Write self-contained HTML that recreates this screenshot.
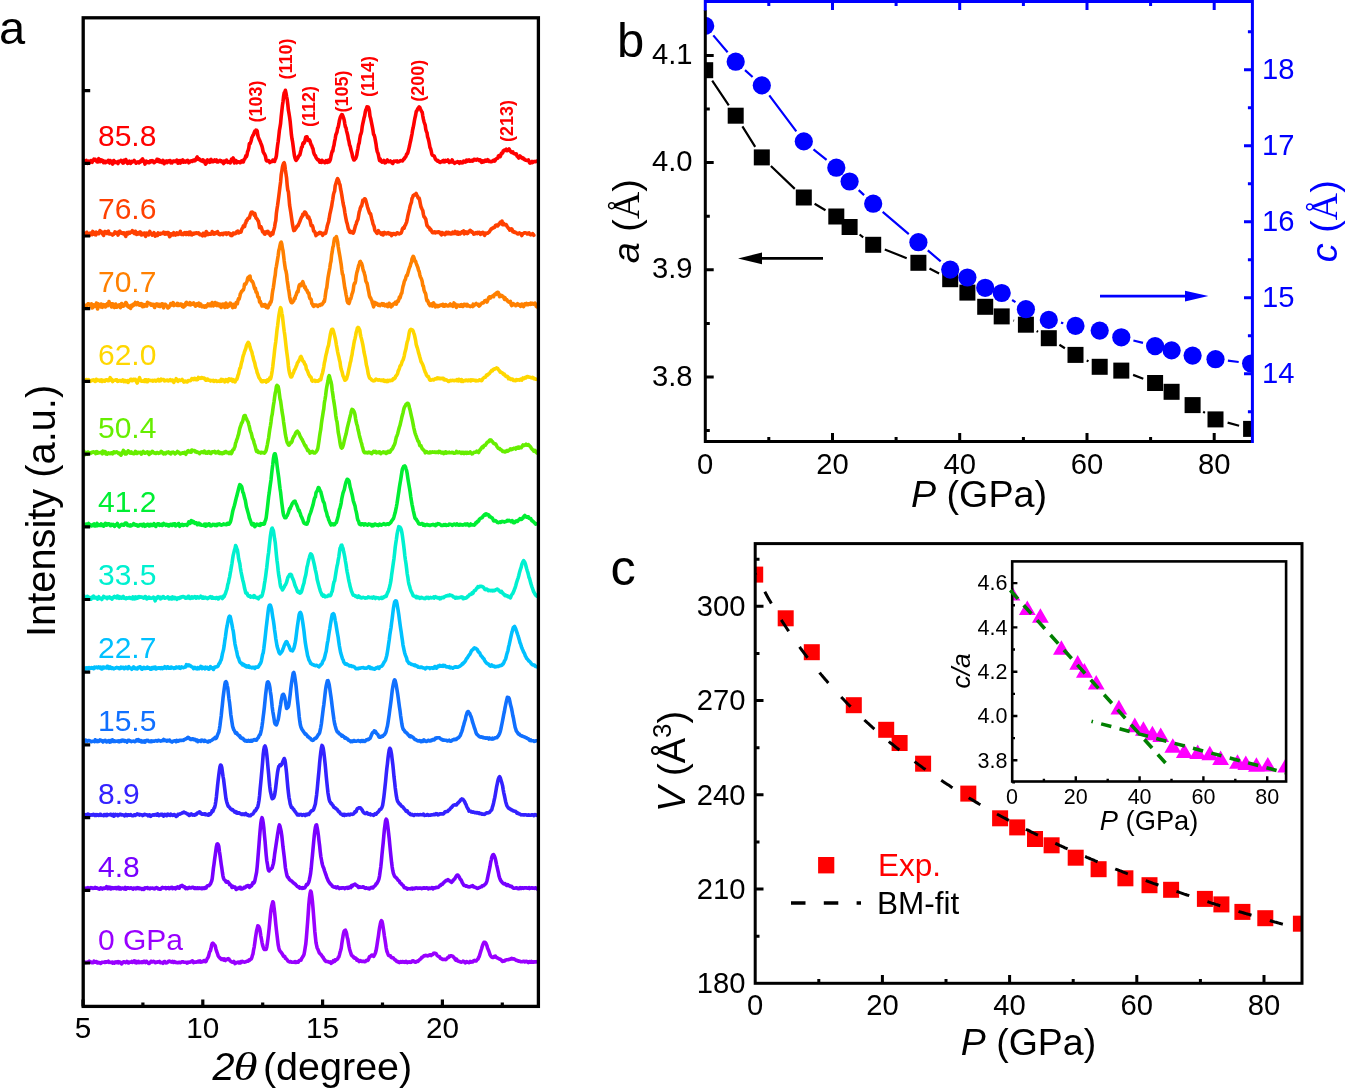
<!DOCTYPE html>
<html><head><meta charset="utf-8"><style>html,body{margin:0;padding:0;background:#fff;overflow:hidden}svg{display:block;will-change:transform}</style></head><body>
<svg width="1345" height="1089" viewBox="0 0 1345 1089">
<defs><clipPath id="clipA"><rect x="83.2" y="17.8" width="455.2" height="988.6"/></clipPath></defs>
<rect width="100%" height="100%" fill="#fff"/>
<g clip-path="url(#clipA)"><polyline points="83.2,161.9 83.8,162.1 84.4,161.3 85,160.6 85.6,160.8 86.2,160.5 86.8,162 87.4,163.3 88,161.4 88.6,161.1 89.2,162.3 89.8,162.4 90.4,161.8 91,160.7 91.6,161.7 92.2,162.3 92.8,160.3 93.4,160.4 94,159.1 94.6,159.3 95.2,159.2 95.8,160.7 96.4,160.3 97,161.8 97.6,162 98.2,161 98.8,158.7 99.4,160.5 100,161.6 100.6,161.5 101.2,159.9 101.8,160.6 102.4,160.3 103,160.9 103.6,162.6 104.2,161.1 104.8,161.8 105.4,162.7 106,161.3 106.6,161.6 107.2,161.9 107.8,161.6 108.4,160.4 109,161.9 109.6,163 110.2,160.6 110.8,162.4 111.4,162 112,161.6 112.6,164.1 113.2,162.9 113.8,160.6 114.4,161.7 115,162.4 115.6,161.9 116.2,162.5 116.8,162.1 117.4,162.9 118,163.5 118.6,161.4 119.2,161.8 119.8,161.3 120.4,161.5 121,160.3 121.6,160.8 122.2,161.7 122.8,163.1 123.4,163 124,160.4 124.6,160.7 125.2,161.9 125.8,159.6 126.4,160.8 127,161.9 127.6,163.4 128.2,162.8 128.8,161.5 129.4,161.2 130,161.8 130.6,163.4 131.2,161.6 131.8,161.4 132.4,162.1 133,161.7 133.6,161.3 134.2,160.5 134.8,161.4 135.4,161.6 136,163.2 136.6,162.8 137.2,162.1 137.8,162.5 138.4,161.8 139,162.9 139.6,162.2 140.2,162.1 140.8,160.6 141.4,161.5 142,159.5 142.6,159 143.2,160.8 143.8,160.8 144.4,162.3 145,164.1 145.6,161.3 146.2,161 146.8,162 147.4,162.4 148,161.7 148.6,161.7 149.2,162.7 149.8,162.3 150.4,160.8 151,161.5 151.6,161.6 152.2,160.7 152.8,161.6 153.4,161.1 154,162.7 154.6,162.3 155.2,161.8 155.8,161.1 156.4,161.1 157,159.3 157.6,160.2 158.2,161.4 158.8,159.7 159.4,161.8 160,160.3 160.6,162 161.2,161.2 161.8,162.5 162.4,161.8 163,160.4 163.6,163.1 164.2,163.7 164.8,162 165.4,161.4 166,161.3 166.6,161 167.2,162.6 167.8,161.5 168.4,161.4 169,160.8 169.6,160.6 170.2,160.6 170.8,162.8 171.4,162.1 172,162.8 172.6,161.9 173.2,161 173.8,161.2 174.4,161.1 175,161.6 175.6,161.3 176.2,161.1 176.8,160.1 177.4,161 178,163.2 178.6,161.2 179.2,160.6 179.8,162.2 180.4,163.1 181,160.5 181.6,161.1 182.2,160.7 182.8,159.9 183.4,162.2 184,162 184.6,161.7 185.2,161.1 185.8,162 186.4,161.3 187,161.3 187.6,160.3 188.2,160.6 188.8,162.8 189.4,161.6 190,161.9 190.6,161.5 191.2,160.8 191.8,160.7 192.4,161.4 193,160.3 193.6,160 194.2,160.1 194.8,160.9 195.4,160.3 196,159.3 196.6,157.8 197.2,157 197.8,159.2 198.4,159.5 199,158.7 199.6,159.4 200.2,160.1 200.8,160.6 201.4,160.7 202,160.1 202.6,161.5 203.2,159.9 203.8,161.7 204.4,162.1 205,162.9 205.6,164.1 206.2,163.4 206.8,160.5 207.4,160 208,162 208.6,160.9 209.2,161.7 209.8,162.3 210.4,159.8 211,159.3 211.6,161.6 212.2,161.8 212.8,161.6 213.4,161.6 214,160.6 214.6,160 215.2,161.1 215.8,160.4 216.4,160 217,161.9 217.6,161.9 218.2,162 218.8,160.7 219.4,160.7 220,160.4 220.6,160.7 221.2,161.6 221.8,161.1 222.4,162.1 223,162.7 223.6,163.6 224.2,161 224.8,162.4 225.4,161.9 226,161.5 226.6,160.2 227.2,161.2 227.8,162.4 228.4,161.9 229,161.8 229.6,161.8 230.2,162.9 230.8,161.6 231.4,159.4 232,160.2 232.6,159 233.2,158 233.8,160.9 234.4,163 235,161.9 235.6,160.4 236.2,160.8 236.8,162.8 237.4,162.2 238,161.9 238.6,161.8 239.2,162 239.8,162.7 240.4,162.6 241,161.9 241.6,160.9 242.2,161.9 242.8,161.2 243.4,161.9 244,159.6 244.6,159.2 245.2,158 245.8,155.9 246.4,156.8 247,155 247.6,151.5 248.2,150.4 248.8,147.9 249.4,143.6 250,143.9 250.6,142.4 251.2,140.5 251.8,137.7 252.4,136.5 253,135.2 253.6,134.7 254.2,132.6 254.8,131.2 255.4,131.6 256,130.1 256.6,130.3 257.2,130.9 257.8,135.4 258.4,137.3 259,138.8 259.6,140.3 260.2,141.5 260.8,143.2 261.4,144.6 262,146.4 262.6,148.8 263.2,151.9 263.8,153 264.4,153.9 265,155 265.6,156.9 266.2,160.3 266.8,160.9 267.4,161 268,160.8 268.6,160.5 269.2,161.6 269.8,162.5 270.4,161.6 271,161.5 271.6,161.6 272.2,161.5 272.8,160.2 273.4,161 274,160.8 274.6,161.4 275.2,159.2 275.8,158.2 276.4,155.8 277,150.3 277.6,145.3 278.2,141.2 278.8,136.1 279.4,130.5 280,127.1 280.6,123.4 281.2,116.7 281.8,111.2 282.4,105.8 283,101.8 283.6,96.2 284.2,92.7 284.8,92.1 285.4,90.3 286,93.1 286.6,96.6 287.2,99.6 287.8,104.5 288.4,110.2 289,113.4 289.6,117.3 290.2,121.8 290.8,128.1 291.4,134.6 292,138.9 292.6,141.9 293.2,146.4 293.8,151.2 294.4,155.5 295,158 295.6,159.8 296.2,160.3 296.8,159.4 297.4,158.7 298,157.6 298.6,156.1 299.2,155.4 299.8,155 300.4,152.5 301,150 301.6,147.2 302.2,146.8 302.8,143.7 303.4,142.7 304,143.3 304.6,142 305.2,139.5 305.8,137 306.4,136.9 307,136.8 307.6,138.5 308.2,140.5 308.8,139.9 309.4,139.9 310,141 310.6,143.4 311.2,144.8 311.8,145.6 312.4,147.8 313,148.8 313.6,152.1 314.2,154 314.8,155.2 315.4,155.5 316,157.4 316.6,158.3 317.2,159.1 317.8,159.9 318.4,159.6 319,160.1 319.6,162.1 320.2,161.8 320.8,162.1 321.4,162.4 322,160.3 322.6,160.8 323.2,161.9 323.8,162.1 324.4,161.7 325,162.7 325.6,162 326.2,160.6 326.8,160.9 327.4,162.4 328,161.9 328.6,160.1 329.2,161.8 329.8,160.9 330.4,159.5 331,156.2 331.6,153.5 332.2,151.1 332.8,151.1 333.4,147.3 334,145.3 334.6,141.3 335.2,138.8 335.8,135 336.4,133.5 337,132 337.6,128.2 338.2,127.2 338.8,124.2 339.4,120.5 340,118.4 340.6,116.6 341.2,115.5 341.8,114.6 342.4,114.8 343,116.5 343.6,117.9 344.2,120.1 344.8,123.8 345.4,126.9 346,127.8 346.6,131.1 347.2,133.3 347.8,135.7 348.4,139.5 349,141.6 349.6,145.2 350.2,146.3 350.8,149.3 351.4,151.4 352,153.5 352.6,156.7 353.2,158.3 353.8,160 354.4,160 355,158.9 355.6,158.5 356.2,157.1 356.8,155.1 357.4,151.1 358,148.3 358.6,144.5 359.2,143 359.8,138.8 360.4,135.2 361,133.8 361.6,131.6 362.2,126.7 362.8,123.7 363.4,121 364,118.1 364.6,116.1 365.2,112.5 365.8,110 366.4,108.7 367,106.8 367.6,107.1 368.2,107 368.8,108.3 369.4,110.9 370,116.3 370.6,118.2 371.2,121.2 371.8,124.1 372.4,127.2 373,130.4 373.6,134.4 374.2,135.2 374.8,137.3 375.4,140.6 376,143.8 376.6,148.4 377.2,151.4 377.8,152.7 378.4,154.8 379,158 379.6,160.5 380.2,158.9 380.8,161.2 381.4,161.1 382,162.2 382.6,161 383.2,161.1 383.8,160.4 384.4,161 385,162.9 385.6,162.6 386.2,161.5 386.8,160.7 387.4,160 388,161.1 388.6,161.7 389.2,161.7 389.8,161.5 390.4,160.9 391,161.5 391.6,162 392.2,163.2 392.8,163.5 393.4,161.9 394,161.1 394.6,161.5 395.2,161.2 395.8,161.1 396.4,161.4 397,161 397.6,162 398.2,161.8 398.8,161.8 399.4,161.4 400,160.8 400.6,160.5 401.2,160.8 401.8,160.6 402.4,160.9 403,160.3 403.6,159 404.2,159.1 404.8,157.7 405.4,157.2 406,156.3 406.6,154.1 407.2,154 407.8,152.7 408.4,150.5 409,148.1 409.6,145.5 410.2,142.5 410.8,140 411.4,136.9 412,134 412.6,130 413.2,127.5 413.8,124.3 414.4,120.8 415,117.7 415.6,115.3 416.2,111.7 416.8,110.9 417.4,109.5 418,108.4 418.6,107.7 419.2,106.9 419.8,107.5 420.4,109 421,110.2 421.6,111.4 422.2,112.3 422.8,116 423.4,119.2 424,121.7 424.6,123.5 425.2,125.2 425.8,129.5 426.4,131.5 427,132.7 427.6,136.9 428.2,138.6 428.8,141 429.4,144.1 430,147.6 430.6,148.7 431.2,151 431.8,153.9 432.4,155.2 433,155.2 433.6,155.8 434.2,156.1 434.8,157.4 435.4,159.1 436,159.8 436.6,160.2 437.2,161 437.8,160.3 438.4,160.9 439,161.8 439.6,162.1 440.2,162.4 440.8,162 441.4,161.5 442,161.7 442.6,160.8 443.2,160.5 443.8,161.9 444.4,161.9 445,161.7 445.6,160.5 446.2,161.2 446.8,161.2 447.4,160.7 448,160 448.6,161.3 449.2,162.5 449.8,162.1 450.4,161.4 451,161.8 451.6,161.9 452.2,159.9 452.8,161.4 453.4,162.3 454,162.6 454.6,163.3 455.2,162.9 455.8,162.2 456.4,162.2 457,162.3 457.6,161.5 458.2,161.8 458.8,162.7 459.4,163.3 460,162 460.6,161.8 461.2,162.1 461.8,162.8 462.4,162.2 463,162.6 463.6,161.1 464.2,161.2 464.8,161.4 465.4,162.1 466,161.9 466.6,160.1 467.2,160.3 467.8,161 468.4,160.3 469,159.8 469.6,161.3 470.2,161.2 470.8,160.9 471.4,160.4 472,161 472.6,160.5 473.2,160.8 473.8,159.5 474.4,159.3 475,159.9 475.6,159.5 476.2,160.2 476.8,159.9 477.4,159.2 478,159.7 478.6,159.8 479.2,160.5 479.8,159.7 480.4,159.9 481,161.4 481.6,162.4 482.2,162.2 482.8,160.9 483.4,161 484,161.8 484.6,160.8 485.2,160.2 485.8,161 486.4,161.2 487,160.4 487.6,159.7 488.2,160.1 488.8,161.5 489.4,161 490,161.3 490.6,161.7 491.2,161.8 491.8,161.3 492.4,161.4 493,160.5 493.6,160.4 494.2,160.1 494.8,161 495.4,160.1 496,159 496.6,158.7 497.2,158.4 497.8,158.1 498.4,156.1 499,155.5 499.6,155.6 500.2,156.6 500.8,155 501.4,153.3 502,153.1 502.6,153.1 503.2,151 503.8,150.3 504.4,150.7 505,150.1 505.6,149.7 506.2,149.2 506.8,150.6 507.4,150.7 508,150.2 508.6,150 509.2,149 509.8,150.7 510.4,151.1 511,151.9 511.6,152.5 512.2,152.1 512.8,151.8 513.4,153.3 514,153.3 514.6,153.8 515.2,154 515.8,154.3 516.4,153.9 517,156.1 517.6,156.4 518.2,157.3 518.8,158 519.4,157 520,156 520.6,156.7 521.2,157 521.8,157.9 522.4,158.4 523,157.8 523.6,159.1 524.2,158.8 524.8,159.9 525.4,160.1 526,160.2 526.6,160.5 527.2,160.4 527.8,160.3 528.4,160 529,161.3 529.6,162.8 530.2,163.1 530.8,162.7 531.4,162.1 532,161.5 532.6,162.5 533.2,161.9 533.8,161.6 534.4,161.6 535,161.7 535.6,161.5 536.2,161.5 536.8,161.1" fill="none" stroke="#FF0000" stroke-width="3.6" stroke-linejoin="round" stroke-linecap="round"/>
<polyline points="83.2,233.6 83.8,236.1 84.4,233.9 85,233.3 85.6,234.3 86.2,234.2 86.8,232.3 87.4,233.2 88,234.6 88.6,234.1 89.2,234.1 89.8,235.2 90.4,233.1 91,233.3 91.6,233.3 92.2,234.6 92.8,231.4 93.4,232.1 94,232.9 94.6,234.3 95.2,234.7 95.8,234.9 96.4,232.2 97,233.9 97.6,233.2 98.2,232.8 98.8,233.7 99.4,232 100,230.7 100.6,232.2 101.2,231.5 101.8,232.5 102.4,233.9 103,234.4 103.6,235.4 104.2,233.3 104.8,231.5 105.4,232 106,231.9 106.6,232 107.2,233.5 107.8,232.4 108.4,231.2 109,233.8 109.6,233.6 110.2,233.9 110.8,233.9 111.4,234.3 112,234 112.6,235 113.2,234.4 113.8,234.2 114.4,233.7 115,231.9 115.6,232.9 116.2,233.2 116.8,233.3 117.4,232.4 118,235.1 118.6,233.7 119.2,231.7 119.8,231.2 120.4,232.7 121,233.2 121.6,232.7 122.2,233.3 122.8,232.9 123.4,233.8 124,232.8 124.6,233.5 125.2,235.2 125.8,236.4 126.4,232.9 127,232.5 127.6,232.6 128.2,233.9 128.8,232.3 129.4,232.7 130,233.1 130.6,232.1 131.2,232.1 131.8,232.2 132.4,230.7 133,231.3 133.6,232.7 134.2,233.5 134.8,232.9 135.4,231.3 136,232.7 136.6,234.4 137.2,234.3 137.8,233.3 138.4,232.6 139,233.9 139.6,232.7 140.2,231.9 140.8,232.7 141.4,235 142,234.4 142.6,234.7 143.2,233.5 143.8,234.3 144.4,233 145,233.8 145.6,236.4 146.2,234.8 146.8,233.1 147.4,233.4 148,234.1 148.6,234.8 149.2,232.8 149.8,231.4 150.4,232.8 151,233.5 151.6,233.9 152.2,235.1 152.8,234.4 153.4,234.2 154,232.7 154.6,234.7 155.2,236.2 155.8,234.9 156.4,234 157,234.2 157.6,235.3 158.2,232.9 158.8,233.3 159.4,234.2 160,234.3 160.6,233.3 161.2,233.7 161.8,233.3 162.4,233.5 163,233.1 163.6,232.2 164.2,233.4 164.8,234.2 165.4,232.6 166,233.2 166.6,233.9 167.2,232.5 167.8,233.2 168.4,232.7 169,235 169.6,236.7 170.2,236.2 170.8,233.9 171.4,234.3 172,233.8 172.6,234 173.2,234.9 173.8,232.7 174.4,234.3 175,234 175.6,235 176.2,233.9 176.8,232.9 177.4,233.8 178,234.4 178.6,233.8 179.2,233.9 179.8,232.6 180.4,231.3 181,234.1 181.6,234.5 182.2,233.8 182.8,233.8 183.4,234.5 184,233.1 184.6,232.6 185.2,233.4 185.8,234.4 186.4,232.6 187,234.3 187.6,232.8 188.2,232.5 188.8,234.6 189.4,233.4 190,232 190.6,233 191.2,234.7 191.8,234.9 192.4,233.4 193,234 193.6,234.2 194.2,233.1 194.8,233.7 195.4,233.4 196,232.8 196.6,232.9 197.2,233.5 197.8,233.4 198.4,232.8 199,233.2 199.6,234.6 200.2,234.2 200.8,234.7 201.4,235.1 202,234.9 202.6,235.8 203.2,233.3 203.8,234.1 204.4,233.8 205,235.7 205.6,235.2 206.2,231.6 206.8,232.2 207.4,234.1 208,234.6 208.6,234.4 209.2,233.7 209.8,234.1 210.4,234.3 211,233.8 211.6,234 212.2,231.5 212.8,233.4 213.4,232.8 214,234.2 214.6,233.3 215.2,232.6 215.8,233.5 216.4,232.4 217,232 217.6,231.7 218.2,233.2 218.8,234.2 219.4,234.6 220,233.8 220.6,234.5 221.2,233.7 221.8,233.5 222.4,234.3 223,234.6 223.6,233.3 224.2,233.1 224.8,233.3 225.4,233.4 226,232.8 226.6,234.3 227.2,233.4 227.8,233.7 228.4,232.8 229,233.8 229.6,233.9 230.2,233.6 230.8,235.5 231.4,234.7 232,235.6 232.6,234.7 233.2,233 233.8,233.1 234.4,233.9 235,233.7 235.6,233.5 236.2,232.8 236.8,231.6 237.4,232.4 238,231.2 238.6,233 239.2,232.3 239.8,232 240.4,232.3 241,232.1 241.6,229.8 242.2,228.4 242.8,227.7 243.4,225.8 244,225.8 244.6,226.6 245.2,223.6 245.8,223 246.4,220.5 247,220.4 247.6,219.1 248.2,218.2 248.8,218.1 249.4,218 250,215.6 250.6,213.9 251.2,212.3 251.8,212.7 252.4,212.2 253,213.1 253.6,213.4 254.2,215.1 254.8,213.4 255.4,215.7 256,218.2 256.6,218.4 257.2,219.1 257.8,220.5 258.4,221.1 259,224.1 259.6,227.7 260.2,227.7 260.8,226.6 261.4,227.7 262,229.7 262.6,231.8 263.2,231.3 263.8,232 264.4,233.9 265,234.2 265.6,232.9 266.2,231.9 266.8,231.6 267.4,232 268,231.3 268.6,233.6 269.2,233.1 269.8,234.2 270.4,235.6 271,234.8 271.6,232.8 272.2,234.1 272.8,234 273.4,231.3 274,229.3 274.6,227.1 275.2,223 275.8,220.6 276.4,213.2 277,209.1 277.6,205.3 278.2,200.7 278.8,196.2 279.4,191.4 280,186.4 280.6,182 281.2,174.8 281.8,171.4 282.4,167.3 283,164.9 283.6,163.3 284.2,162.7 284.8,165.1 285.4,169.9 286,173.9 286.6,178 287.2,185.3 287.8,190.2 288.4,191.9 289,198.2 289.6,205.1 290.2,208.7 290.8,212.6 291.4,216.7 292,220.9 292.6,224.9 293.2,227.9 293.8,230.6 294.4,230.4 295,229.8 295.6,228.5 296.2,228.1 296.8,226.5 297.4,226 298,225.9 298.6,224.2 299.2,222.9 299.8,221.5 300.4,219.9 301,218.4 301.6,217.1 302.2,216.5 302.8,214.3 303.4,214.9 304,213.2 304.6,212 305.2,212.2 305.8,212.9 306.4,214.4 307,215.3 307.6,217.6 308.2,217.2 308.8,217 309.4,219.2 310,219.9 310.6,223 311.2,225.5 311.8,226.2 312.4,225.7 313,227.6 313.6,231 314.2,231.2 314.8,231.9 315.4,233.8 316,235.6 316.6,234.9 317.2,233.9 317.8,233.9 318.4,234 319,232.9 319.6,232.4 320.2,233.2 320.8,232.7 321.4,233.3 322,234 322.6,235.4 323.2,233.2 323.8,233.2 324.4,233.3 325,233.6 325.6,233.4 326.2,230.9 326.8,228.4 327.4,225.4 328,223.4 328.6,221.8 329.2,218.4 329.8,214.4 330.4,211.8 331,209.2 331.6,206.4 332.2,202.5 332.8,199.2 333.4,194.9 334,192.6 334.6,191.3 335.2,185.8 335.8,183.9 336.4,182.1 337,179.8 337.6,178.6 338.2,179.6 338.8,181.3 339.4,183.3 340,184.8 340.6,188.9 341.2,191.7 341.8,195.1 342.4,199 343,202.7 343.6,205.8 344.2,208 344.8,212.2 345.4,215.7 346,218.9 346.6,221.9 347.2,223.6 347.8,226.3 348.4,229.2 349,229.8 349.6,231.9 350.2,232.4 350.8,232.5 351.4,231.6 352,232.1 352.6,232.8 353.2,233.1 353.8,232 354.4,229.7 355,227.5 355.6,225.2 356.2,224 356.8,221.7 357.4,220.5 358,219.2 358.6,215.6 359.2,212.1 359.8,210.2 360.4,207.8 361,206.3 361.6,206.2 362.2,203.4 362.8,200.3 363.4,200.5 364,200.2 364.6,198.8 365.2,199 365.8,200.5 366.4,202.7 367,204.9 367.6,207.2 368.2,209.1 368.8,210.9 369.4,212.8 370,213.6 370.6,213.8 371.2,216.6 371.8,219.2 372.4,221.1 373,224 373.6,225.2 374.2,226.9 374.8,230.3 375.4,231.2 376,231.7 376.6,232.8 377.2,233.3 377.8,232.5 378.4,230.7 379,231.9 379.6,232.5 380.2,232.5 380.8,233.6 381.4,234.4 382,233.1 382.6,232.8 383.2,234.9 383.8,233.3 384.4,232.5 385,233.6 385.6,233.8 386.2,233.1 386.8,233.9 387.4,233.1 388,232.7 388.6,233.6 389.2,234 389.8,233.2 390.4,233.6 391,234 391.6,235.6 392.2,233.6 392.8,234.5 393.4,233.7 394,233.5 394.6,234.2 395.2,234.5 395.8,234.6 396.4,233.7 397,232.8 397.6,232.8 398.2,233.5 398.8,233.7 399.4,234 400,233.2 400.6,233.3 401.2,233 401.8,231.2 402.4,229 403,228.1 403.6,227.5 404.2,228.2 404.8,225.7 405.4,225.3 406,223.5 406.6,222.2 407.2,219.5 407.8,216.1 408.4,213.5 409,211.2 409.6,208.7 410.2,205.7 410.8,203.9 411.4,202.4 412,198.4 412.6,197.4 413.2,195.6 413.8,195.2 414.4,195 415,194.2 415.6,194.3 416.2,193.4 416.8,195.5 417.4,195.8 418,197.7 418.6,198.5 419.2,198.2 419.8,201 420.4,204.1 421,206.9 421.6,208.1 422.2,209.5 422.8,210.6 423.4,214.4 424,216.7 424.6,217.2 425.2,218.2 425.8,219.2 426.4,222.7 427,225.7 427.6,225.9 428.2,227.2 428.8,227.7 429.4,227.8 430,229.8 430.6,229.2 431.2,230.4 431.8,231.6 432.4,232.5 433,232.7 433.6,232.7 434.2,232 434.8,231.9 435.4,232.8 436,232.5 436.6,232 437.2,232.1 437.8,232.5 438.4,231.8 439,231.9 439.6,232.1 440.2,233.4 440.8,234.1 441.4,234.8 442,232.6 442.6,232.9 443.2,234 443.8,233.4 444.4,233.5 445,234.7 445.6,233.3 446.2,232.4 446.8,232.4 447.4,233.6 448,233.6 448.6,232.4 449.2,232.6 449.8,233.8 450.4,233.9 451,233.2 451.6,233.9 452.2,233.7 452.8,232.2 453.4,232.9 454,233.5 454.6,232.6 455.2,231.5 455.8,232.7 456.4,233.8 457,233.9 457.6,232 458.2,234.2 458.8,232.5 459.4,233.4 460,233.9 460.6,233.5 461.2,232.6 461.8,231.8 462.4,232.6 463,231.5 463.6,230.8 464.2,233.9 464.8,233.4 465.4,233.3 466,231.9 466.6,233.1 467.2,233.6 467.8,233.4 468.4,232.1 469,231.2 469.6,231.5 470.2,230.4 470.8,230.8 471.4,232 472,231.7 472.6,232.2 473.2,232.8 473.8,234.2 474.4,233.9 475,233.1 475.6,233.6 476.2,232.5 476.8,232.8 477.4,233.5 478,232.3 478.6,232.6 479.2,232.3 479.8,233.4 480.4,234.4 481,233.2 481.6,233.4 482.2,232.7 482.8,232.4 483.4,232.7 484,234.7 484.6,235.4 485.2,234 485.8,233.1 486.4,233.6 487,233.1 487.6,233.3 488.2,232.7 488.8,232.3 489.4,231.8 490,230.6 490.6,229.9 491.2,228.7 491.8,228.8 492.4,228 493,228.1 493.6,227.4 494.2,227.6 494.8,227.2 495.4,225.6 496,225.2 496.6,225 497.2,225.8 497.8,226 498.4,224.9 499,223.8 499.6,224 500.2,222.3 500.8,223.3 501.4,222 502,221.1 502.6,224.6 503.2,224.7 503.8,223.4 504.4,224.3 505,224.7 505.6,225.1 506.2,224.7 506.8,225.7 507.4,227 508,227.6 508.6,228.6 509.2,228.8 509.8,230.2 510.4,229.1 511,229.5 511.6,228.8 512.2,229.8 512.8,231.7 513.4,231.3 514,232.3 514.6,232.4 515.2,232.1 515.8,232.7 516.4,232.9 517,233.1 517.6,234 518.2,233.9 518.8,233.1 519.4,232.9 520,233.5 520.6,233.6 521.2,234.5 521.8,235.5 522.4,234.4 523,233.6 523.6,233.3 524.2,232.8 524.8,232.7 525.4,232.7 526,233.1 526.6,233.3 527.2,233.9 527.8,233.3 528.4,233.2 529,232.9 529.6,234.4 530.2,234.3 530.8,234.8 531.4,234.4 532,234.5 532.6,233.6 533.2,234.3 533.8,235.3" fill="none" stroke="#FF4000" stroke-width="3.6" stroke-linejoin="round" stroke-linecap="round"/>
<polyline points="83.2,303.8 83.8,307 84.4,308.1 85,306.5 85.6,306.8 86.2,307 86.8,304.8 87.4,305.3 88,303.9 88.6,303.8 89.2,304.1 89.8,304.8 90.4,305.5 91,305.5 91.6,303.9 92.2,308 92.8,307.7 93.4,306.5 94,304.9 94.6,305.1 95.2,306.1 95.8,305.4 96.4,303.1 97,306.6 97.6,309 98.2,303.8 98.8,306.2 99.4,306 100,305.6 100.6,306.8 101.2,304 101.8,305.5 102.4,307.3 103,305.2 103.6,304.6 104.2,305.1 104.8,305.1 105.4,307 106,304.6 106.6,305.8 107.2,303.9 107.8,305.7 108.4,304.5 109,301.5 109.6,304.1 110.2,303.5 110.8,304.7 111.4,306.9 112,303.8 112.6,303.8 113.2,307 113.8,306.3 114.4,307.5 115,305.9 115.6,304 116.2,305.2 116.8,307.2 117.4,306.9 118,305.5 118.6,305.2 119.2,304.9 119.8,304.9 120.4,307.7 121,305.5 121.6,303.5 122.2,304.4 122.8,306.3 123.4,306.3 124,305 124.6,304.2 125.2,304.5 125.8,302.5 126.4,303.1 127,305.8 127.6,304.9 128.2,305.9 128.8,307.2 129.4,306.5 130,306.1 130.6,308.4 131.2,306.7 131.8,305.1 132.4,306.2 133,305.7 133.6,304.2 134.2,305 134.8,304.4 135.4,302.4 136,304.3 136.6,304.6 137.2,304 137.8,302.7 138.4,304.2 139,305.1 139.6,305 140.2,303.9 140.8,305.4 141.4,303.7 142,304.9 142.6,306.7 143.2,304.5 143.8,304.6 144.4,306.4 145,304.9 145.6,304.7 146.2,305.7 146.8,306.1 147.4,302.3 148,303.1 148.6,303.3 149.2,303.2 149.8,303.5 150.4,303.9 151,305.1 151.6,304.1 152.2,305.2 152.8,305.6 153.4,304.4 154,305.6 154.6,307.5 155.2,305.9 155.8,304.4 156.4,304.7 157,304 157.6,305.5 158.2,306.2 158.8,304.3 159.4,305 160,306.5 160.6,304.9 161.2,305 161.8,303.7 162.4,303.7 163,304.9 163.6,307.8 164.2,305.1 164.8,304.2 165.4,304.3 166,305 166.6,306.1 167.2,306.2 167.8,308 168.4,306.4 169,307.2 169.6,306.1 170.2,305.7 170.8,303.5 171.4,304.6 172,305 172.6,304.3 173.2,302.6 173.8,305.6 174.4,304.8 175,304.5 175.6,304.7 176.2,304.9 176.8,305.3 177.4,303.4 178,303.7 178.6,305.4 179.2,305.4 179.8,304.6 180.4,304.1 181,304 181.6,305.2 182.2,306.4 182.8,304.6 183.4,307.1 184,306.6 184.6,305.1 185.2,305.7 185.8,303.1 186.4,302.3 187,303 187.6,304.2 188.2,304.5 188.8,304.5 189.4,304.6 190,302.7 190.6,304.9 191.2,303.4 191.8,303.9 192.4,304.2 193,303.3 193.6,302.9 194.2,303.6 194.8,305.1 195.4,306.1 196,305.8 196.6,303.9 197.2,303.7 197.8,304 198.4,305 199,303.1 199.6,306.1 200.2,304.7 200.8,304.2 201.4,305.7 202,306.7 202.6,306.2 203.2,306.6 203.8,306 204.4,307.1 205,307 205.6,305.8 206.2,307 206.8,305.8 207.4,305.1 208,304 208.6,304.8 209.2,305.7 209.8,304 210.4,305.7 211,305.9 211.6,305.1 212.2,302.5 212.8,304.7 213.4,305.8 214,304.5 214.6,304.5 215.2,302.5 215.8,305.2 216.4,304.8 217,305.6 217.6,303.4 218.2,305.5 218.8,305.3 219.4,305.9 220,304.1 220.6,304.8 221.2,307.5 221.8,304.6 222.4,304.1 223,304.4 223.6,304.2 224.2,306.8 224.8,307.4 225.4,304.3 226,303.2 226.6,306.5 227.2,307.1 227.8,306.8 228.4,306.6 229,304.4 229.6,304.4 230.2,303.1 230.8,303.4 231.4,305.8 232,305.2 232.6,307.7 233.2,305.5 233.8,304.4 234.4,306.1 235,307.2 235.6,305.1 236.2,302.6 236.8,303.5 237.4,303.6 238,300.2 238.6,298.5 239.2,298.9 239.8,296.6 240.4,293.7 241,292.8 241.6,291.4 242.2,291.1 242.8,290.1 243.4,289.8 244,287.6 244.6,284 245.2,284.5 245.8,284.1 246.4,282.6 247,281.5 247.6,278.5 248.2,277.3 248.8,278.4 249.4,276.4 250,276.1 250.6,280.1 251.2,280.2 251.8,281.3 252.4,281.5 253,282.8 253.6,284.6 254.2,287.2 254.8,289 255.4,288.2 256,292.1 256.6,292 257.2,293.5 257.8,296.8 258.4,297.4 259,297.7 259.6,302 260.2,301.3 260.8,303 261.4,304.5 262,306 262.6,304.9 263.2,305.9 263.8,304.8 264.4,306.1 265,304.5 265.6,305.1 266.2,307.4 266.8,306.1 267.4,305.9 268,307.8 268.6,305.8 269.2,304.1 269.8,304.5 270.4,302 271,302.2 271.6,299.7 272.2,294.3 272.8,290.3 273.4,287.3 274,283.1 274.6,278.3 275.2,275.2 275.8,269.1 276.4,266.3 277,262.7 277.6,259.1 278.2,255.5 278.8,250.5 279.4,248.6 280,245.4 280.6,243 281.2,242.1 281.8,244 282.4,248.2 283,250.7 283.6,255.6 284.2,260.9 284.8,265.2 285.4,269.3 286,271.1 286.6,274.3 287.2,280.3 287.8,284.1 288.4,288.6 289,291.7 289.6,296.3 290.2,299.3 290.8,301.5 291.4,302.6 292,302.8 292.6,302.2 293.2,301.3 293.8,300.6 294.4,298.3 295,298.6 295.6,295.9 296.2,295 296.8,292.7 297.4,291.4 298,291.9 298.6,288.2 299.2,285.4 299.8,284.5 300.4,284.4 301,285.6 301.6,283.4 302.2,283 302.8,281.7 303.4,283.6 304,285.6 304.6,287.6 305.2,286.8 305.8,289 306.4,290 307,290.2 307.6,292.3 308.2,293.2 308.8,293 309.4,297 310,298.8 310.6,298.9 311.2,299.7 311.8,303.5 312.4,304.1 313,305.6 313.6,306.3 314.2,304.9 314.8,305.8 315.4,305.1 316,305.1 316.6,305.1 317.2,305.4 317.8,306.4 318.4,305.6 319,305 319.6,304.9 320.2,305.3 320.8,304.2 321.4,304.3 322,304.6 322.6,303.7 323.2,302.9 323.8,301.3 324.4,301.4 325,298 325.6,293.4 326.2,289.5 326.8,287.6 327.4,282.3 328,277.8 328.6,274.4 329.2,271 329.8,268.1 330.4,263.6 331,261.1 331.6,255.1 332.2,251.9 332.8,247.4 333.4,245.9 334,241.1 334.6,238.5 335.2,238 335.8,237.8 336.4,236.7 337,239.1 337.6,241.7 338.2,246.5 338.8,250.2 339.4,253.6 340,257 340.6,260.9 341.2,264.6 341.8,269.8 342.4,274.1 343,274.9 343.6,279.6 344.2,283.7 344.8,287.9 345.4,290.5 346,294.3 346.6,297.1 347.2,301.2 347.8,302.7 348.4,303.2 349,303.5 349.6,301.7 350.2,299 350.8,298.8 351.4,296.6 352,293.9 352.6,292.6 353.2,290.2 353.8,285.5 354.4,283.4 355,283.3 355.6,280.8 356.2,276.1 356.8,272.8 357.4,270.9 358,268.5 358.6,265.5 359.2,264.6 359.8,262 360.4,261.5 361,263.4 361.6,263.4 362.2,265.4 362.8,268.4 363.4,270.7 364,272 364.6,274.3 365.2,276.4 365.8,280.9 366.4,282.4 367,283 367.6,286.2 368.2,289.5 368.8,292.1 369.4,295.6 370,297.4 370.6,297.8 371.2,299.6 371.8,300.5 372.4,303 373,304.5 373.6,306.9 374.2,304.6 374.8,302.4 375.4,303.6 376,304.4 376.6,303.4 377.2,303.7 377.8,304.5 378.4,305.3 379,304.8 379.6,304.4 380.2,305.6 380.8,304.7 381.4,304.3 382,303.6 382.6,304.3 383.2,305.3 383.8,303.8 384.4,304.9 385,305.8 385.6,305 386.2,305.1 386.8,304.4 387.4,306.5 388,306.6 388.6,305.3 389.2,303.3 389.8,304 390.4,306.2 391,306.9 391.6,305.7 392.2,305.8 392.8,304.1 393.4,303.9 394,304 394.6,303.8 395.2,302.3 395.8,304 396.4,304.1 397,301.5 397.6,300.8 398.2,301.5 398.8,299.7 399.4,297.2 400,298 400.6,296 401.2,293.6 401.8,293.3 402.4,289.5 403,286.3 403.6,284.7 404.2,281.9 404.8,280.3 405.4,279.4 406,276.9 406.6,275.4 407.2,275.4 407.8,273.3 408.4,271.2 409,269 409.6,267.3 410.2,266.1 410.8,263.5 411.4,262.6 412,258.9 412.6,257.6 413.2,256.3 413.8,257.3 414.4,259.3 415,261.3 415.6,261.3 416.2,263.3 416.8,265 417.4,266.4 418,268 418.6,270.6 419.2,271.5 419.8,274.7 420.4,276.8 421,278 421.6,279.4 422.2,281.5 422.8,285.8 423.4,286.1 424,290 424.6,291.7 425.2,292.7 425.8,294.4 426.4,298.5 427,300.9 427.6,300.4 428.2,301.9 428.8,304 429.4,304.4 430,305.6 430.6,304.1 431.2,304.4 431.8,303.8 432.4,306.1 433,304.1 433.6,302.8 434.2,304.5 434.8,305.3 435.4,306.8 436,305.2 436.6,305.2 437.2,306 437.8,306.7 438.4,305.6 439,306.2 439.6,305.8 440.2,305.1 440.8,305.2 441.4,305.1 442,304.6 442.6,305.8 443.2,304.4 443.8,306.2 444.4,306.2 445,305.2 445.6,304.5 446.2,304.9 446.8,305.7 447.4,306 448,305.8 448.6,306 449.2,304.9 449.8,305 450.4,304 451,305.6 451.6,305.4 452.2,305.1 452.8,306.3 453.4,305.5 454,302.9 454.6,304.4 455.2,304.1 455.8,306.3 456.4,307.4 457,305.2 457.6,305.1 458.2,305.1 458.8,305.6 459.4,306.1 460,306.2 460.6,304.9 461.2,306.2 461.8,304.7 462.4,305.5 463,306.4 463.6,305.8 464.2,304.4 464.8,304.3 465.4,304.7 466,305.3 466.6,305.9 467.2,304.4 467.8,305.5 468.4,305.9 469,305.9 469.6,306 470.2,306.6 470.8,306 471.4,306.1 472,306.1 472.6,306.5 473.2,304.2 473.8,305.9 474.4,305.2 475,304.7 475.6,304 476.2,303.4 476.8,304.4 477.4,304.6 478,305.2 478.6,304.3 479.2,306.1 479.8,305.5 480.4,304.6 481,303.8 481.6,303.3 482.2,302.7 482.8,302.8 483.4,302.9 484,302.2 484.6,300.9 485.2,301.1 485.8,300.5 486.4,301.2 487,302.1 487.6,300.8 488.2,299.1 488.8,297.5 489.4,296.9 490,296.8 490.6,298 491.2,296.9 491.8,296.7 492.4,296 493,296.3 493.6,296.7 494.2,294.8 494.8,294.2 495.4,293.8 496,294.4 496.6,292.9 497.2,292.4 497.8,292.2 498.4,292.7 499,294.9 499.6,296.7 500.2,295 500.8,296.3 501.4,296.2 502,295.6 502.6,296.5 503.2,297 503.8,297.5 504.4,299.3 505,297.6 505.6,299.1 506.2,299.8 506.8,299.6 507.4,300.6 508,301.6 508.6,301.6 509.2,302.2 509.8,302.4 510.4,301.4 511,304.2 511.6,305.6 512.2,305.2 512.8,305 513.4,303.7 514,304.4 514.6,304.3 515.2,304.7 515.8,305.7 516.4,304.7 517,304.7 517.6,303.7 518.2,304.8 518.8,305.1 519.4,304.6 520,304.8 520.6,306.3 521.2,304.4 521.8,304 522.4,304.4 523,306 523.6,306.5 524.2,305 524.8,303.8 525.4,303.9 526,304.5 526.6,303.5 527.2,304.7 527.8,304.7 528.4,303.7 529,303.8 529.6,304.1 530.2,304.4 530.8,303.1 531.4,304.2 532,303.5 532.6,303.3 533.2,304.1 533.8,304 534.4,303.5 535,303.2 535.6,304.1 536.2,306.2 536.8,306.8" fill="none" stroke="#FF8000" stroke-width="3.6" stroke-linejoin="round" stroke-linecap="round"/>
<polyline points="83.2,381.2 83.8,381.5 84.4,380.3 85,380.4 85.6,380.5 86.2,379.5 86.8,379.5 87.4,380.4 88,380.1 88.6,379.7 89.2,380.6 89.8,380.5 90.4,381.3 91,380.6 91.6,380.3 92.2,380.5 92.8,380.3 93.4,379.9 94,380.2 94.6,381.1 95.2,381.4 95.8,381.3 96.4,379.3 97,379.8 97.6,380.1 98.2,380.5 98.8,380.1 99.4,380.2 100,381.1 100.6,380.6 101.2,379.8 101.8,381.5 102.4,381.4 103,380.4 103.6,380.9 104.2,380.3 104.8,381.2 105.4,380.4 106,379.8 106.6,379.9 107.2,379.9 107.8,380.6 108.4,380.7 109,380.5 109.6,379.5 110.2,377.6 110.8,379.7 111.4,379.1 112,380.6 112.6,381.5 113.2,380.8 113.8,380.2 114.4,380.3 115,380.3 115.6,380 116.2,379.8 116.8,379.9 117.4,381.3 118,380.8 118.6,381.2 119.2,380.5 119.8,380.5 120.4,380.5 121,381 121.6,381.2 122.2,380.7 122.8,379.9 123.4,380.1 124,381.6 124.6,380.5 125.2,380.5 125.8,381.7 126.4,381.7 127,381 127.6,380.7 128.2,382.3 128.8,381.3 129.4,381 130,380.2 130.6,379.2 131.2,379.3 131.8,380.7 132.4,380.8 133,380.2 133.6,379.3 134.2,379.2 134.8,379.8 135.4,379.5 136,381.1 136.6,382 137.2,383 137.8,381.5 138.4,380.1 139,379.2 139.6,377.7 140.2,379.5 140.8,380.4 141.4,381.3 142,381.2 142.6,381.1 143.2,380.9 143.8,381.3 144.4,381.5 145,379.9 145.6,379.8 146.2,379.7 146.8,381.7 147.4,381.8 148,381.1 148.6,379.8 149.2,380.4 149.8,380.4 150.4,380.5 151,380.5 151.6,380.8 152.2,380.4 152.8,381.1 153.4,380.8 154,380.3 154.6,380.3 155.2,380.3 155.8,381 156.4,380.5 157,380.6 157.6,380 158.2,379.5 158.8,380.8 159.4,380 160,380.9 160.6,380.7 161.2,379.2 161.8,379.5 162.4,379.8 163,379.6 163.6,379.6 164.2,380.8 164.8,380.5 165.4,380.7 166,380.3 166.6,380.5 167.2,380 167.8,380.5 168.4,380.9 169,380.6 169.6,380 170.2,379.7 170.8,380.5 171.4,380.7 172,380.2 172.6,380 173.2,381.2 173.8,382.3 174.4,380.7 175,380.8 175.6,380.4 176.2,378.7 176.8,380.1 177.4,380.2 178,381.3 178.6,380.4 179.2,379.9 179.8,380.3 180.4,380.5 181,380.1 181.6,380.2 182.2,379.5 182.8,380.3 183.4,381.3 184,382.1 184.6,381.3 185.2,381 185.8,381.5 186.4,381.7 187,382 187.6,381.5 188.2,380.6 188.8,380.7 189.4,380.7 190,380.8 190.6,380.6 191.2,379.6 191.8,378.7 192.4,379.2 193,378.6 193.6,379.6 194.2,379.4 194.8,378.3 195.4,379.5 196,379.6 196.6,379 197.2,379.7 197.8,379.4 198.4,377.4 199,378.3 199.6,378.1 200.2,378.2 200.8,378.4 201.4,377.6 202,377.6 202.6,377.8 203.2,378.2 203.8,378.7 204.4,378.2 205,378.8 205.6,380.1 206.2,380.2 206.8,380.3 207.4,379 208,379.6 208.6,380 209.2,380.3 209.8,380.2 210.4,381 211,380.6 211.6,380.5 212.2,380.6 212.8,380.9 213.4,380.4 214,381.3 214.6,381 215.2,380.7 215.8,380.6 216.4,381 217,381.4 217.6,381.3 218.2,381 218.8,381.2 219.4,380.9 220,381.4 220.6,380.4 221.2,379.3 221.8,381.1 222.4,380.6 223,379.7 223.6,380.1 224.2,380.2 224.8,381.9 225.4,380.9 226,379.6 226.6,380.6 227.2,380.6 227.8,381.6 228.4,379.7 229,378.8 229.6,380.2 230.2,380.2 230.8,379.9 231.4,379.1 232,380.7 232.6,381.4 233.2,379.6 233.8,380.9 234.4,380.6 235,381.9 235.6,380.7 236.2,379.6 236.8,379.4 237.4,377.7 238,375.3 238.6,373.9 239.2,371 239.8,368.3 240.4,368.2 241,365 241.6,362.4 242.2,360.6 242.8,357.3 243.4,355.2 244,353.6 244.6,351.6 245.2,350 245.8,348.5 246.4,345.8 247,344.5 247.6,343.5 248.2,342.3 248.8,343.3 249.4,344.3 250,347.1 250.6,348.9 251.2,350.5 251.8,351.9 252.4,354.7 253,356.7 253.6,359.6 254.2,361.3 254.8,363.1 255.4,366.3 256,368.4 256.6,369.9 257.2,372.8 257.8,374.1 258.4,375.9 259,377.7 259.6,378.4 260.2,379.3 260.8,380.2 261.4,381.6 262,381.6 262.6,380.8 263.2,381.5 263.8,380.7 264.4,380.9 265,381.2 265.6,381.1 266.2,382.1 266.8,380.8 267.4,379.9 268,381.1 268.6,380.3 269.2,379.6 269.8,377.9 270.4,379 271,377.4 271.6,374.4 272.2,370.8 272.8,366.5 273.4,360.9 274,356.1 274.6,350.3 275.2,345.6 275.8,341.4 276.4,336 277,330.1 277.6,325.9 278.2,320.9 278.8,316 279.4,312.6 280,309.4 280.6,307.6 281.2,309.1 281.8,313.3 282.4,315.8 283,321.1 283.6,326.4 284.2,331.2 284.8,335.1 285.4,340.4 286,345.9 286.6,351.1 287.2,355.2 287.8,359.9 288.4,365.9 289,370.4 289.6,373.4 290.2,375.3 290.8,376.9 291.4,376.9 292,376.3 292.6,374.2 293.2,373.4 293.8,371.9 294.4,370 295,369.3 295.6,367.9 296.2,366.3 296.8,365.1 297.4,362.9 298,362.2 298.6,361.2 299.2,360 299.8,359.1 300.4,357 301,356.4 301.6,357.8 302.2,359.1 302.8,361.1 303.4,361.5 304,362 304.6,364 305.2,364.5 305.8,365.8 306.4,369.3 307,369.9 307.6,371.3 308.2,372.8 308.8,374.7 309.4,375.4 310,376.9 310.6,376.8 311.2,377.8 311.8,380.3 312.4,381.1 313,380.8 313.6,380.6 314.2,380.5 314.8,380.3 315.4,381.4 316,381.2 316.6,380.9 317.2,380.9 317.8,381.2 318.4,381 319,380.7 319.6,379.6 320.2,379.9 320.8,379.7 321.4,376.7 322,374.6 322.6,372.7 323.2,370 323.8,366.7 324.4,362.7 325,360.5 325.6,356.9 326.2,354.2 326.8,352 327.4,348.9 328,346.8 328.6,345.1 329.2,341.1 329.8,337.7 330.4,334.1 331,331.6 331.6,329.7 332.2,329.2 332.8,329.3 333.4,331 334,333.4 334.6,335.6 335.2,338.1 335.8,341.2 336.4,345.1 337,348.1 337.6,351.6 338.2,354.5 338.8,356.7 339.4,359.8 340,362 340.6,366.7 341.2,369.3 341.8,371 342.4,373.1 343,375.9 343.6,376.8 344.2,378.6 344.8,380.2 345.4,380 346,379.3 346.6,378.9 347.2,376.4 347.8,374.7 348.4,371.7 349,368.7 349.6,366.2 350.2,362.9 350.8,361 351.4,357.2 352,354.9 352.6,350.6 353.2,347.9 353.8,344 354.4,340.8 355,338.7 355.6,335.9 356.2,332.3 356.8,330.7 357.4,328 358,327.4 358.6,327.8 359.2,329 359.8,330.3 360.4,334.5 361,337.1 361.6,339.4 362.2,341.9 362.8,344.6 363.4,348 364,352 364.6,354.7 365.2,357.3 365.8,360.9 366.4,364.9 367,367.1 367.6,370 368.2,373.7 368.8,375.9 369.4,377.5 370,378.4 370.6,378.7 371.2,379.3 371.8,380 372.4,380.3 373,380.7 373.6,380.9 374.2,380.7 374.8,380.5 375.4,379.7 376,379.1 376.6,379.8 377.2,379.8 377.8,380 378.4,380.1 379,379.7 379.6,379.7 380.2,380.3 380.8,380.5 381.4,380.2 382,380.7 382.6,380.3 383.2,379.9 383.8,380.6 384.4,381.4 385,380.5 385.6,381.2 386.2,381.6 386.8,381.4 387.4,380.4 388,381.5 388.6,380.7 389.2,380.3 389.8,380.3 390.4,380.6 391,380.3 391.6,380.1 392.2,380.4 392.8,379.2 393.4,378.6 394,379 394.6,378.6 395.2,377.7 395.8,375.9 396.4,375.7 397,374.6 397.6,373.6 398.2,371 398.8,370 399.4,368.3 400,366.2 400.6,365.3 401.2,364.8 401.8,362.6 402.4,360.9 403,360 403.6,358.4 404.2,356.1 404.8,352.9 405.4,350.7 406,348.5 406.6,344.9 407.2,342 407.8,340.2 408.4,337.8 409,333.9 409.6,331 410.2,329.9 410.8,329.4 411.4,329.5 412,329.9 412.6,330.2 413.2,331.2 413.8,333.1 414.4,334.8 415,337.5 415.6,340.3 416.2,344.5 416.8,346.5 417.4,348.1 418,350.4 418.6,352.9 419.2,354.7 419.8,357 420.4,359.1 421,361.5 421.6,362.5 422.2,363.6 422.8,364.9 423.4,366.5 424,368.6 424.6,370.3 425.2,372.2 425.8,373 426.4,374.9 427,375.8 427.6,376.5 428.2,376.4 428.8,377.5 429.4,379.3 430,380.1 430.6,380 431.2,380.2 431.8,379.7 432.4,379.6 433,379.5 433.6,380 434.2,379.6 434.8,379 435.4,378.7 436,378.9 436.6,378.5 437.2,378 437.8,378.7 438.4,378.1 439,378 439.6,378.7 440.2,378.7 440.8,378.3 441.4,378.6 442,378.2 442.6,378.3 443.2,378.2 443.8,379.7 444.4,379 445,380 445.6,379.7 446.2,379.7 446.8,380.2 447.4,380.6 448,381 448.6,381.5 449.2,381 449.8,380.9 450.4,380.4 451,380.8 451.6,380.6 452.2,380.3 452.8,380.4 453.4,380.5 454,380.6 454.6,380.7 455.2,380.2 455.8,380.2 456.4,380.6 457,379.7 457.6,380.2 458.2,380.9 458.8,379.3 459.4,380 460,380.6 460.6,380 461.2,381.3 461.8,379.7 462.4,381.1 463,381.5 463.6,381.1 464.2,380.5 464.8,380.6 465.4,380.2 466,380.7 466.6,380 467.2,380.4 467.8,380.8 468.4,380 469,380.2 469.6,380.4 470.2,380 470.8,380.9 471.4,380.6 472,379.8 472.6,380.2 473.2,380.1 473.8,380.1 474.4,380.4 475,380.3 475.6,380.8 476.2,380.4 476.8,380.9 477.4,380.7 478,380.8 478.6,380.3 479.2,380 479.8,379.8 480.4,380.4 481,380.5 481.6,380.6 482.2,379.8 482.8,378.8 483.4,378 484,377.7 484.6,377.2 485.2,377.3 485.8,376.6 486.4,375.2 487,374.8 487.6,375.2 488.2,374.4 488.8,373.7 489.4,373.6 490,372.6 490.6,371.9 491.2,371.2 491.8,370.3 492.4,370.8 493,369.7 493.6,369.3 494.2,368.9 494.8,369.1 495.4,368.6 496,368.3 496.6,367.8 497.2,368.5 497.8,368.6 498.4,369.7 499,370.4 499.6,370.9 500.2,372.1 500.8,372.1 501.4,372.5 502,372.7 502.6,373.2 503.2,374.1 503.8,374.6 504.4,374.2 505,375.5 505.6,376 506.2,376.6 506.8,376.8 507.4,376.4 508,377.1 508.6,378.8 509.2,378.7 509.8,378.4 510.4,379.4 511,379.5 511.6,379.1 512.2,379 512.8,379.5 513.4,380.4 514,380.5 514.6,380.4 515.2,380.7 515.8,380.6 516.4,379.6 517,380.1 517.6,380 518.2,379.8 518.8,380 519.4,380.1 520,379.8 520.6,379.1 521.2,379.4 521.8,380.1 522.4,378.7 523,378 523.6,378.6 524.2,378.6 524.8,378.2 525.4,377.4 526,377.8 526.6,376.9 527.2,376.5 527.8,376.5 528.4,376.8 529,377.1 529.6,377.2 530.2,377.2 530.8,377.7 531.4,377.7 532,378 532.6,377.4 533.2,377.6 533.8,378.6 534.4,378.3 535,378.8 535.6,379.2 536.2,379.2 536.8,379.4" fill="none" stroke="#FFD700" stroke-width="3.6" stroke-linejoin="round" stroke-linecap="round"/>
<polyline points="83.2,453.3 83.8,451 84.4,453.3 85,454.6 85.6,453 86.2,452.7 86.8,453.5 87.4,454 88,452 88.6,452.4 89.2,452.6 89.8,453 90.4,452.9 91,453.1 91.6,452.4 92.2,452.5 92.8,452 93.4,451.9 94,452.4 94.6,452.3 95.2,451.9 95.8,453.6 96.4,452.5 97,451.7 97.6,453.1 98.2,452.3 98.8,452.9 99.4,452.7 100,452.8 100.6,452.7 101.2,452.2 101.8,452.9 102.4,453.8 103,451.2 103.6,452.4 104.2,452.8 104.8,451.6 105.4,451.7 106,454 106.6,453 107.2,454.2 107.8,453.4 108.4,452.8 109,453.1 109.6,453.4 110.2,453.7 110.8,453.2 111.4,452.8 112,453 112.6,453.8 113.2,453.3 113.8,451.9 114.4,452 115,452.6 115.6,452.1 116.2,452.1 116.8,451.8 117.4,452.3 118,453 118.6,453.4 119.2,453.1 119.8,454.2 120.4,453.4 121,455.2 121.6,454 122.2,453.1 122.8,451.8 123.4,450.3 124,452 124.6,453 125.2,453.9 125.8,452.2 126.4,453.8 127,452.8 127.6,452.7 128.2,450.8 128.8,452.2 129.4,452.5 130,453.1 130.6,452.6 131.2,451.9 131.8,453.2 132.4,453.4 133,453.3 133.6,453.6 134.2,453.6 134.8,452.5 135.4,451.4 136,451.6 136.6,453.5 137.2,453.4 137.8,452.7 138.4,452.3 139,452.6 139.6,452.6 140.2,452.2 140.8,452.4 141.4,454.1 142,453 142.6,452 143.2,451.4 143.8,452 144.4,453.1 145,453.2 145.6,452.6 146.2,452.6 146.8,452.2 147.4,451.9 148,453.4 148.6,453.5 149.2,454.4 149.8,452.4 150.4,452.5 151,453.2 151.6,452.3 152.2,451.4 152.8,451.7 153.4,452.6 154,452.9 154.6,452.7 155.2,453.5 155.8,453.5 156.4,453 157,452.6 157.6,452.5 158.2,453.1 158.8,453.4 159.4,452.9 160,452.9 160.6,452.2 161.2,451.4 161.8,451.8 162.4,453.1 163,453.3 163.6,453.8 164.2,453 164.8,453.4 165.4,453.9 166,453.4 166.6,452.3 167.2,452.4 167.8,452.5 168.4,452 169,452.9 169.6,453.3 170.2,452.7 170.8,453.9 171.4,452.7 172,452.4 172.6,452.3 173.2,452.1 173.8,452.8 174.4,452.9 175,453.9 175.6,453.4 176.2,453 176.8,452.3 177.4,451.5 178,452.2 178.6,452.1 179.2,453.1 179.8,453 180.4,453.9 181,453.5 181.6,453.3 182.2,452.9 182.8,452.9 183.4,453.2 184,453.2 184.6,452.3 185.2,453.1 185.8,454.3 186.4,452.6 187,451.8 187.6,451.1 188.2,450.6 188.8,452 189.4,451.4 190,451.4 190.6,452.3 191.2,452.3 191.8,450.1 192.4,450.8 193,450.7 193.6,450.5 194.2,450.6 194.8,450.7 195.4,451.8 196,451.6 196.6,451.6 197.2,452.4 197.8,452.5 198.4,452.3 199,452.6 199.6,453.6 200.2,453 200.8,452.4 201.4,451.9 202,452.1 202.6,451.8 203.2,452.6 203.8,452.5 204.4,451.2 205,452.4 205.6,453.1 206.2,452.7 206.8,452.2 207.4,453.2 208,452.1 208.6,451.5 209.2,451.7 209.8,452.6 210.4,453.4 211,453.6 211.6,452.7 212.2,451.7 212.8,451.8 213.4,451.9 214,452.1 214.6,451.4 215.2,452.5 215.8,453 216.4,452.7 217,452.8 217.6,451.8 218.2,451.4 218.8,452.1 219.4,453.4 220,453.4 220.6,452.6 221.2,453.3 221.8,452.8 222.4,453.7 223,453.1 223.6,452.5 224.2,453 224.8,452.1 225.4,451.6 226,451.5 226.6,452.6 227.2,452.6 227.8,452.5 228.4,452.5 229,453.4 229.6,452.4 230.2,452.2 230.8,453.5 231.4,453.6 232,452.2 232.6,450.2 233.2,449.9 233.8,449.4 234.4,447.7 235,446.4 235.6,443 236.2,441.8 236.8,439.5 237.4,438.4 238,435.9 238.6,434.2 239.2,431.1 239.8,428.4 240.4,426.6 241,424.9 241.6,423 242.2,422.5 242.8,420.8 243.4,418.2 244,416 244.6,415.6 245.2,415.6 245.8,417.6 246.4,418.5 247,420 247.6,421.1 248.2,422.1 248.8,424.6 249.4,426.8 250,429.7 250.6,431.6 251.2,433 251.8,435.4 252.4,438.4 253,439.1 253.6,440.8 254.2,443.2 254.8,445 255.4,447.1 256,449.6 256.6,451.4 257.2,450.5 257.8,451.8 258.4,452.4 259,452.5 259.6,452.4 260.2,452.5 260.8,453.1 261.4,452.4 262,452.5 262.6,452.6 263.2,452.6 263.8,452.6 264.4,453.1 265,452.3 265.6,451.6 266.2,450.1 266.8,447.4 267.4,444.5 268,441.1 268.6,438 269.2,433.5 269.8,429.3 270.4,426 271,421.9 271.6,416.9 272.2,414.4 272.8,409.7 273.4,405.5 274,402 274.6,397.3 275.2,393.3 275.8,391 276.4,386.6 277,385.4 277.6,385.9 278.2,386.5 278.8,389.6 279.4,393.9 280,398.7 280.6,401 281.2,405.3 281.8,409.9 282.4,413.6 283,417 283.6,421.9 284.2,426 284.8,430.2 285.4,434.4 286,437.7 286.6,440.4 287.2,442.5 287.8,443.4 288.4,444.8 289,445.1 289.6,444.3 290.2,443.5 290.8,442.2 291.4,442.5 292,441.6 292.6,439 293.2,437.9 293.8,436.6 294.4,436.2 295,434.6 295.6,433.2 296.2,432.2 296.8,431.7 297.4,431.2 298,432.2 298.6,432.5 299.2,434.1 299.8,435.3 300.4,436.8 301,437.6 301.6,439 302.2,439.4 302.8,441.2 303.4,442.1 304,443.5 304.6,444.8 305.2,446.1 305.8,445.9 306.4,447.9 307,448.6 307.6,450.6 308.2,450 308.8,450.7 309.4,451.3 310,453.1 310.6,452 311.2,452.4 311.8,452.1 312.4,451.4 313,452.2 313.6,452.9 314.2,452.7 314.8,453 315.4,452.3 316,451.9 316.6,451 317.2,450 317.8,448.5 318.4,444.7 319,440.7 319.6,436.2 320.2,432.3 320.8,429.1 321.4,423.8 322,419.5 322.6,415.9 323.2,411.9 323.8,408.6 324.4,402.6 325,399.5 325.6,395.7 326.2,390.6 326.8,386.8 327.4,383.8 328,380.9 328.6,377 329.2,375.6 329.8,377.6 330.4,380.1 331,381.9 331.6,384.8 332.2,390.5 332.8,394.2 333.4,398.8 334,402.4 334.6,406.2 335.2,410.4 335.8,415.7 336.4,419.6 337,421.8 337.6,426.5 338.2,432.1 338.8,435.1 339.4,438.4 340,442.7 340.6,445.8 341.2,447.6 341.8,448.1 342.4,447.5 343,445.9 343.6,444 344.2,441 344.8,438.6 345.4,436.3 346,434.3 346.6,431.3 347.2,428.3 347.8,425.9 348.4,423.4 349,421 349.6,418.3 350.2,416.3 350.8,413.7 351.4,410.8 352,409.3 352.6,409.6 353.2,410.1 353.8,411.1 354.4,412.4 355,414.8 355.6,418.6 356.2,421.8 356.8,424.2 357.4,426 358,429.5 358.6,431.7 359.2,434.7 359.8,437.3 360.4,439.3 361,441.7 361.6,443.5 362.2,446.2 362.8,448.1 363.4,450.7 364,451.9 364.6,452.8 365.2,452.7 365.8,452.3 366.4,452.7 367,452.5 367.6,452.9 368.2,452.7 368.8,452.1 369.4,452.5 370,452.6 370.6,452.5 371.2,453.3 371.8,453.6 372.4,452.6 373,452.1 373.6,451.3 374.2,452.2 374.8,452.1 375.4,451.4 376,452.6 376.6,452.9 377.2,452.2 377.8,452.2 378.4,452.1 379,452.7 379.6,451.8 380.2,452.5 380.8,453.6 381.4,452.9 382,452.8 382.6,452.4 383.2,451.9 383.8,452.5 384.4,452.7 385,452.1 385.6,452.8 386.2,453.4 386.8,453 387.4,451.6 388,451.4 388.6,451.3 389.2,452.4 389.8,452.2 390.4,451.6 391,450.2 391.6,449.4 392.2,449.1 392.8,448.1 393.4,446.5 394,445.6 394.6,444.3 395.2,442.2 395.8,439.4 396.4,436.9 397,435.7 397.6,434 398.2,431.6 398.8,429.2 399.4,427 400,425.3 400.6,422.7 401.2,420.2 401.8,417.3 402.4,415 403,412.9 403.6,410 404.2,407.7 404.8,406.5 405.4,405.8 406,404.4 406.6,404.1 407.2,403.3 407.8,403.3 408.4,403.7 409,405.7 409.6,408.6 410.2,410.6 410.8,413.3 411.4,416.1 412,418.7 412.6,421.5 413.2,424.7 413.8,427.8 414.4,430.3 415,432.7 415.6,434.6 416.2,436.1 416.8,437.8 417.4,439.3 418,441.2 418.6,441.3 419.2,443.3 419.8,445.6 420.4,445.4 421,445.8 421.6,447.3 422.2,448.8 422.8,449.1 423.4,450 424,450.4 424.6,451 425.2,452.8 425.8,451.9 426.4,451.6 427,451.9 427.6,452.5 428.2,452.7 428.8,452.9 429.4,452.5 430,451.9 430.6,452.6 431.2,452.5 431.8,452.3 432.4,451.8 433,452.1 433.6,452.2 434.2,452.3 434.8,451.9 435.4,452.5 436,452.5 436.6,452 437.2,452.1 437.8,452.2 438.4,452.7 439,451.4 439.6,452 440.2,451.7 440.8,452.3 441.4,452.9 442,452.4 442.6,452.5 443.2,452.4 443.8,453.6 444.4,453.4 445,453.1 445.6,451.9 446.2,452 446.8,453 447.4,452.6 448,452.5 448.6,452.6 449.2,452.1 449.8,452.8 450.4,452.7 451,452.8 451.6,452.4 452.2,452.7 452.8,452.4 453.4,453.1 454,453.3 454.6,453.2 455.2,453 455.8,452.7 456.4,451.4 457,452.7 457.6,452.6 458.2,452.6 458.8,452.3 459.4,451.8 460,452.3 460.6,453 461.2,453.3 461.8,452.4 462.4,452.3 463,453.1 463.6,452.5 464.2,453.5 464.8,452.7 465.4,452.3 466,453.1 466.6,453.4 467.2,452.3 467.8,453.2 468.4,452.8 469,453.2 469.6,452.4 470.2,451.9 470.8,452.8 471.4,453.3 472,453.9 472.6,453.7 473.2,453.1 473.8,452.5 474.4,452.3 475,452.3 475.6,452.1 476.2,452 476.8,451.2 477.4,452 478,452 478.6,452.6 479.2,451.3 479.8,450.1 480.4,449.7 481,448.4 481.6,447.8 482.2,447 482.8,447.7 483.4,446.9 484,445.5 484.6,445.3 485.2,445.3 485.8,444.5 486.4,443.7 487,442.6 487.6,442 488.2,441.9 488.8,441.6 489.4,440.4 490,439.9 490.6,440.6 491.2,440.2 491.8,441.2 492.4,441.5 493,442.4 493.6,443.3 494.2,443.5 494.8,443.9 495.4,443.8 496,444.4 496.6,445.7 497.2,446.9 497.8,447.6 498.4,448.4 499,448.2 499.6,448.6 500.2,449.5 500.8,449.7 501.4,450 502,450.3 502.6,451.4 503.2,451.2 503.8,451.7 504.4,451.3 505,451.9 505.6,451.3 506.2,451.5 506.8,450.5 507.4,450.7 508,451.2 508.6,450.3 509.2,450.3 509.8,449.7 510.4,448.9 511,449.7 511.6,449.7 512.2,448.9 512.8,449.2 513.4,448.5 514,448.2 514.6,448.4 515.2,448.3 515.8,449 516.4,447.7 517,448.3 517.6,448.3 518.2,447.1 518.8,447.1 519.4,448 520,447.6 520.6,447.7 521.2,447.7 521.8,446.7 522.4,445.8 523,444.9 523.6,445.6 524.2,445.1 524.8,445.2 525.4,444.8 526,444.2 526.6,445.1 527.2,445.1 527.8,445 528.4,444.6 529,445.3 529.6,445.9 530.2,446.6 530.8,447.2 531.4,448.4 532,449.1 532.6,449.7 533.2,450.1 533.8,451.2 534.4,451.1 535,450.4 535.6,451.5 536.2,452.3 536.8,452.8" fill="none" stroke="#66EE00" stroke-width="3.6" stroke-linejoin="round" stroke-linecap="round"/>
<polyline points="83.2,524.5 83.8,524.4 84.4,524.3 85,525.1 85.6,524.5 86.2,524.1 86.8,524.2 87.4,525 88,524.2 88.6,523.5 89.2,524.9 89.8,524.4 90.4,525 91,525.4 91.6,526 92.2,525.7 92.8,524.5 93.4,524.4 94,524 94.6,526 95.2,525.7 95.8,525.9 96.4,524.4 97,523.4 97.6,525.7 98.2,525.2 98.8,524.9 99.4,525 100,525.4 100.6,525.1 101.2,523.8 101.8,525.3 102.4,524.5 103,524.6 103.6,526.2 104.2,525.7 104.8,524.4 105.4,523.3 106,524.7 106.6,525.2 107.2,524.6 107.8,523.7 108.4,523.8 109,523.7 109.6,524.9 110.2,525.6 110.8,525.6 111.4,524.4 112,525 112.6,525.2 113.2,524.5 113.8,525 114.4,526.4 115,525.5 115.6,525.4 116.2,524.6 116.8,524.5 117.4,523.5 118,524.7 118.6,526.1 119.2,526.8 119.8,526.2 120.4,525.5 121,524.9 121.6,524.3 122.2,524.7 122.8,525.1 123.4,524.5 124,525.2 124.6,523.9 125.2,523.1 125.8,523.5 126.4,523.1 127,523.7 127.6,525.4 128.2,524.9 128.8,525.1 129.4,525.9 130,525.9 130.6,524.8 131.2,525.8 131.8,525.3 132.4,524.9 133,524.9 133.6,523.7 134.2,524 134.8,524.7 135.4,525.2 136,524.6 136.6,524.8 137.2,525.7 137.8,526.1 138.4,525.8 139,525.8 139.6,524.7 140.2,524.6 140.8,524.9 141.4,524.5 142,524.6 142.6,525.9 143.2,524.8 143.8,524.1 144.4,525.3 145,526.3 145.6,525.3 146.2,525.7 146.8,524.6 147.4,524.3 148,524.2 148.6,524.9 149.2,526 149.8,524.5 150.4,525.7 151,524.3 151.6,524.6 152.2,525.5 152.8,525.4 153.4,524.8 154,523.7 154.6,524.6 155.2,524.5 155.8,526.5 156.4,525.1 157,524.7 157.6,523.9 158.2,524.1 158.8,523.9 159.4,525.3 160,524.9 160.6,525.1 161.2,524.3 161.8,524.5 162.4,525.5 163,524 163.6,523.4 164.2,524.6 164.8,524 165.4,524.4 166,525.3 166.6,524.5 167.2,525.2 167.8,524.7 168.4,526 169,525.9 169.6,524.6 170.2,524.4 170.8,524.2 171.4,525 172,525.4 172.6,524.1 173.2,525 173.8,523.9 174.4,523.7 175,523.7 175.6,526 176.2,525.2 176.8,524.9 177.4,524.5 178,525.1 178.6,523.5 179.2,524.8 179.8,526.3 180.4,524.9 181,524.9 181.6,525.2 182.2,524.3 182.8,524.8 183.4,525.5 184,525.1 184.6,525 185.2,524.6 185.8,524.8 186.4,524.7 187,525.4 187.6,524.7 188.2,523.3 188.8,521.8 189.4,523.4 190,523.4 190.6,521.8 191.2,520.7 191.8,521.2 192.4,522.4 193,521.3 193.6,521.6 194.2,522.5 194.8,523.3 195.4,522.8 196,522.8 196.6,523 197.2,524.7 197.8,524.7 198.4,523.9 199,523.1 199.6,523.8 200.2,524.8 200.8,524.4 201.4,525.3 202,525.2 202.6,525.2 203.2,525.4 203.8,525.1 204.4,524.2 205,524.8 205.6,526.2 206.2,524.2 206.8,524.5 207.4,525.4 208,524.7 208.6,524 209.2,523.8 209.8,525.1 210.4,525.8 211,525.9 211.6,525.2 212.2,525.4 212.8,524.3 213.4,524.7 214,524.4 214.6,524.9 215.2,525.5 215.8,525.5 216.4,524.5 217,525.5 217.6,524.5 218.2,524 218.8,524.3 219.4,523.8 220,524.6 220.6,525 221.2,524.8 221.8,525.1 222.4,524.7 223,524.5 223.6,523.8 224.2,524.5 224.8,524.2 225.4,524.4 226,524.7 226.6,524.7 227.2,523.5 227.8,523.3 228.4,524.1 229,524.2 229.6,523.3 230.2,522.3 230.8,520.6 231.4,517.9 232,515 232.6,511.8 233.2,509.4 233.8,507.4 234.4,505.5 235,503.1 235.6,500.5 236.2,498.1 236.8,496.1 237.4,493.5 238,491.2 238.6,488.8 239.2,486.3 239.8,484.7 240.4,485.1 241,485.7 241.6,486.6 242.2,488.7 242.8,492.2 243.4,493.1 244,495.5 244.6,498.1 245.2,499.8 245.8,503.1 246.4,506.7 247,508.8 247.6,510.9 248.2,513.1 248.8,515.3 249.4,518 250,519.5 250.6,521.2 251.2,523 251.8,524.5 252.4,524.9 253,524.9 253.6,523.7 254.2,525.6 254.8,526.7 255.4,526 256,524.7 256.6,524.2 257.2,524.7 257.8,524.3 258.4,525.1 259,524.7 259.6,525.5 260.2,525.5 260.8,523.7 261.4,524.6 262,524.2 262.6,523.7 263.2,524 263.8,524.2 264.4,523.9 265,521.3 265.6,520.2 266.2,517.6 266.8,512.7 267.4,507.9 268,502.5 268.6,497.1 269.2,493.1 269.8,488.3 270.4,483.9 271,479.9 271.6,474.1 272.2,468.9 272.8,464.5 273.4,458.7 274,455.2 274.6,453.8 275.2,453.9 275.8,456.5 276.4,459.6 277,464.9 277.6,469.6 278.2,473.8 278.8,478 279.4,483.5 280,488.4 280.6,492.3 281.2,497.9 281.8,503 282.4,507.4 283,512.2 283.6,515.2 284.2,516.4 284.8,517.8 285.4,517.7 286,517.6 286.6,516 287.2,515.6 287.8,514.1 288.4,512.8 289,510.6 289.6,508.6 290.2,508.7 290.8,506.7 291.4,505.8 292,504.1 292.6,503.1 293.2,502.7 293.8,501.6 294.4,501.8 295,501.1 295.6,503 296.2,504 296.8,505.3 297.4,506.9 298,508.7 298.6,510.6 299.2,510.3 299.8,512.4 300.4,513.8 301,516.1 301.6,517 302.2,518.6 302.8,519.8 303.4,521.7 304,523.1 304.6,523.2 305.2,523.8 305.8,523.4 306.4,524.2 307,524 307.6,522.4 308.2,521.4 308.8,517.9 309.4,515.7 310,514.1 310.6,512.6 311.2,510.9 311.8,508.8 312.4,506.8 313,504.9 313.6,502.1 314.2,499.3 314.8,497.6 315.4,496.9 316,492.8 316.6,491.7 317.2,491 317.8,489.1 318.4,487.5 319,487.9 319.6,489.4 320.2,490.8 320.8,491.7 321.4,494.3 322,496.5 322.6,499.1 323.2,501.2 323.8,502.2 324.4,503.7 325,507 325.6,510 326.2,511.6 326.8,513.6 327.4,516.5 328,517.1 328.6,519.6 329.2,520.8 329.8,522.5 330.4,523.8 331,525 331.6,524.2 332.2,524.1 332.8,523.8 333.4,524.8 334,524.6 334.6,524.6 335.2,523.5 335.8,523.1 336.4,522.5 337,520.3 337.6,518.4 338.2,515.9 338.8,512.6 339.4,509.5 340,508.1 340.6,505.5 341.2,502.8 341.8,498.6 342.4,495.8 343,493.1 343.6,491.4 344.2,489.9 344.8,487.2 345.4,484.4 346,482.2 346.6,480.7 347.2,479.3 347.8,479.5 348.4,480.1 349,480.8 349.6,484 350.2,487.5 350.8,489.3 351.4,491.8 352,494.2 352.6,497 353.2,500.4 353.8,502.4 354.4,504.1 355,505.8 355.6,509.4 356.2,511.6 356.8,514.4 357.4,518.3 358,520.4 358.6,521.1 359.2,523.6 359.8,524.4 360.4,524.2 361,524.8 361.6,523.8 362.2,523.7 362.8,523.7 363.4,524.1 364,525 364.6,524 365.2,523.9 365.8,524.2 366.4,524.8 367,524.7 367.6,525.2 368.2,524.4 368.8,523.9 369.4,524.4 370,524.6 370.6,524.3 371.2,525.1 371.8,525.8 372.4,524.7 373,524.9 373.6,525.5 374.2,524.5 374.8,524.1 375.4,524.1 376,524.9 376.6,525.1 377.2,524.8 377.8,524.9 378.4,525.6 379,525.2 379.6,524.1 380.2,524.6 380.8,524.9 381.4,525.2 382,524.7 382.6,524.3 383.2,524.2 383.8,523.7 384.4,524.4 385,524.4 385.6,524.7 386.2,524.1 386.8,524.1 387.4,523.8 388,523.7 388.6,524.4 389.2,523.8 389.8,523.6 390.4,522.6 391,522.3 391.6,520.9 392.2,520.4 392.8,519.4 393.4,518.6 394,516.7 394.6,514.6 395.2,512.6 395.8,509.7 396.4,506.8 397,503.5 397.6,499.4 398.2,495.4 398.8,491.6 399.4,487.2 400,483.6 400.6,480.2 401.2,476.4 401.8,472.4 402.4,469.2 403,467.7 403.6,466.5 404.2,466.3 404.8,465.9 405.4,466.8 406,468.8 406.6,470.6 407.2,473.7 407.8,478 408.4,481.8 409,485.2 409.6,488.8 410.2,492.4 410.8,497 411.4,500.8 412,504.3 412.6,507.2 413.2,510.3 413.8,512.9 414.4,515.5 415,518 415.6,518.9 416.2,519.2 416.8,520.3 417.4,521.1 418,522.2 418.6,523.5 419.2,523.9 419.8,523.8 420.4,524.2 421,523.9 421.6,523.5 422.2,523.6 422.8,524.2 423.4,525.2 424,524.3 424.6,525.4 425.2,525.5 425.8,524.8 426.4,524.6 427,524.4 427.6,524.8 428.2,525.1 428.8,524.9 429.4,525.4 430,525.5 430.6,525.1 431.2,525 431.8,524.8 432.4,524.8 433,524.3 433.6,524.9 434.2,524.8 434.8,524.6 435.4,525.6 436,524.4 436.6,524.3 437.2,524.6 437.8,523.7 438.4,524 439,523.8 439.6,524.1 440.2,524.6 440.8,525 441.4,525.4 442,525.4 442.6,525.5 443.2,525.1 443.8,524.7 444.4,525.2 445,524.6 445.6,524.6 446.2,525.5 446.8,525.3 447.4,525 448,525.2 448.6,525.1 449.2,524.2 449.8,524.5 450.4,524.2 451,524.6 451.6,524.6 452.2,525.4 452.8,525.1 453.4,524.4 454,524.5 454.6,524.2 455.2,524.7 455.8,525.1 456.4,524.7 457,523.8 457.6,524.5 458.2,525 458.8,525.1 459.4,525.2 460,524.3 460.6,524.8 461.2,524.5 461.8,524.8 462.4,525 463,525.1 463.6,524.6 464.2,524.7 464.8,524.1 465.4,524 466,524.9 466.6,524.6 467.2,523.9 467.8,524.2 468.4,524.8 469,525.6 469.6,525.5 470.2,525.1 470.8,524 471.4,524.6 472,525 472.6,525 473.2,524.8 473.8,524.5 474.4,525 475,524.4 475.6,523.1 476.2,522.3 476.8,522.7 477.4,521.4 478,521.5 478.6,521.1 479.2,519.4 479.8,519 480.4,518.4 481,518.1 481.6,517.7 482.2,517.7 482.8,516.6 483.4,515.7 484,515.5 484.6,514.5 485.2,514.2 485.8,515 486.4,513.9 487,514.1 487.6,514.7 488.2,514.7 488.8,514.9 489.4,516.6 490,516.6 490.6,517 491.2,517.5 491.8,517.7 492.4,518.2 493,519.4 493.6,520.9 494.2,520.8 494.8,520.9 495.4,520.5 496,521.2 496.6,521.4 497.2,522.4 497.8,522.5 498.4,522.6 499,522.5 499.6,522.2 500.2,521.8 500.8,522.3 501.4,521.6 502,521.4 502.6,521.7 503.2,521.5 503.8,521.9 504.4,522.1 505,521.7 505.6,521.5 506.2,521.4 506.8,521.3 507.4,520.3 508,520.9 508.6,520.5 509.2,520.4 509.8,520.9 510.4,521.1 511,521.6 511.6,521.7 512.2,520.6 512.8,521.6 513.4,522.7 514,522.5 514.6,522.6 515.2,521.9 515.8,521 516.4,521 517,521.5 517.6,521.3 518.2,520.2 518.8,520 519.4,519.7 520,518.6 520.6,518.8 521.2,519.4 521.8,519.3 522.4,518.1 523,518.2 523.6,516.9 524.2,516.1 524.8,515.5 525.4,516.3 526,516.3 526.6,517.2 527.2,516.9 527.8,516.9 528.4,516.8 529,518.3 529.6,518.4 530.2,518.6 530.8,518.6 531.4,520.2 532,520.9 532.6,520.8 533.2,521.5 533.8,522.2 534.4,522.9 535,523.2 535.6,524.1 536.2,523.8 536.8,523.8" fill="none" stroke="#00EE33" stroke-width="3.6" stroke-linejoin="round" stroke-linecap="round"/>
<polyline points="83.2,597 83.8,595.7 84.4,596.9 85,598.4 85.6,598 86.2,597.2 86.8,597.6 87.4,596.3 88,597.3 88.6,598.2 89.2,598.2 89.8,597.4 90.4,598.6 91,599.2 91.6,597.8 92.2,598 92.8,596.4 93.4,596.2 94,597.9 94.6,597.9 95.2,597.8 95.8,597.3 96.4,597.6 97,598.6 97.6,599.1 98.2,597.6 98.8,596.7 99.4,598.5 100,598.5 100.6,598.4 101.2,598.3 101.8,599.5 102.4,598.2 103,597.8 103.6,596.4 104.2,596.9 104.8,597.2 105.4,597.7 106,597.9 106.6,597.5 107.2,598.7 107.8,597.2 108.4,597.3 109,597.7 109.6,597 110.2,598.1 110.8,598.2 111.4,597.9 112,599.1 112.6,598.1 113.2,597.8 113.8,596.8 114.4,596.3 115,597 115.6,597.4 116.2,597.5 116.8,597.9 117.4,596 118,596.3 118.6,596.5 119.2,598.3 119.8,597.5 120.4,597.1 121,597 121.6,598.2 122.2,597.6 122.8,597.5 123.4,596.5 124,598.3 124.6,598.3 125.2,598.4 125.8,598.7 126.4,597.8 127,597.7 127.6,598.3 128.2,598.1 128.8,597.6 129.4,597.7 130,597.5 130.6,598.3 131.2,598.5 131.8,598.2 132.4,598.8 133,596.9 133.6,597.6 134.2,598.9 134.8,597.5 135.4,596.8 136,598.6 136.6,598.2 137.2,597.1 137.8,598 138.4,597 139,596.6 139.6,597.4 140.2,597.2 140.8,596.9 141.4,597.2 142,597 142.6,597.6 143.2,597.9 143.8,598.2 144.4,597.4 145,596.6 145.6,596.6 146.2,597.6 146.8,598.9 147.4,598.5 148,597.6 148.6,598.1 149.2,597.2 149.8,598.2 150.4,597.8 151,598.3 151.6,598.3 152.2,597.7 152.8,597.8 153.4,597.1 154,597.7 154.6,599.1 155.2,600.8 155.8,598.8 156.4,597.8 157,597.2 157.6,598.1 158.2,596.7 158.8,597 159.4,597.7 160,597.2 160.6,598.8 161.2,598.6 161.8,597.4 162.4,597.1 163,596.6 163.6,596.7 164.2,597.9 164.8,598.3 165.4,598.1 166,597.9 166.6,597.5 167.2,597.7 167.8,596.8 168.4,597.8 169,598.9 169.6,598.8 170.2,597.6 170.8,597.7 171.4,598.9 172,598.9 172.6,596.9 173.2,597.3 173.8,598 174.4,598.5 175,597.5 175.6,598 176.2,598 176.8,599.4 177.4,598.4 178,597.7 178.6,597.7 179.2,598.5 179.8,598.2 180.4,597.2 181,597.6 181.6,596.8 182.2,596.9 182.8,596.6 183.4,596.6 184,597 184.6,597.1 185.2,598.1 185.8,598.3 186.4,597.6 187,597.1 187.6,597.8 188.2,596.3 188.8,596.3 189.4,598.1 190,598.4 190.6,598.5 191.2,597.6 191.8,596.8 192.4,597.3 193,598 193.6,597.2 194.2,597 194.8,596.6 195.4,596.9 196,598.2 196.6,598 197.2,596.9 197.8,596.8 198.4,597.3 199,597.9 199.6,597.1 200.2,597.2 200.8,596.2 201.4,596.7 202,598 202.6,598.2 203.2,597 203.8,597.2 204.4,598.1 205,597.5 205.6,597.4 206.2,598 206.8,598.1 207.4,598.6 208,598.3 208.6,597.5 209.2,597.6 209.8,597.5 210.4,596.7 211,597.1 211.6,598 212.2,597 212.8,598.2 213.4,598.1 214,597.8 214.6,598.2 215.2,598.3 215.8,598.5 216.4,597.6 217,597.5 217.6,597.8 218.2,599 218.8,598.5 219.4,597.2 220,597.2 220.6,597.1 221.2,597.4 221.8,597.8 222.4,598.5 223,596.3 223.6,597.2 224.2,596.5 224.8,594.8 225.4,593.6 226,591.7 226.6,590 227.2,588 227.8,584.4 228.4,582.9 229,579.5 229.6,577.1 230.2,573.4 230.8,570.3 231.4,566.6 232,563.3 232.6,559.1 233.2,555.3 233.8,552.8 234.4,550.4 235,548.6 235.6,545.5 236.2,546.6 236.8,548.8 237.4,550.1 238,553.7 238.6,558.4 239.2,561.3 239.8,563.5 240.4,568 241,571.5 241.6,574.5 242.2,577.4 242.8,580.2 243.4,582.3 244,585.2 244.6,588.3 245.2,590.5 245.8,593.1 246.4,593.3 247,593.1 247.6,594.8 248.2,595.9 248.8,596.2 249.4,596.1 250,595.9 250.6,597.1 251.2,596.3 251.8,596.9 252.4,596.5 253,596.2 253.6,597.3 254.2,595.6 254.8,596.4 255.4,597.4 256,597.4 256.6,597.9 257.2,597.6 257.8,597.6 258.4,598.8 259,597.6 259.6,597 260.2,596.3 260.8,596.3 261.4,596.6 262,595.7 262.6,593.7 263.2,591 263.8,588.5 264.4,584 265,580.6 265.6,576.5 266.2,571.7 266.8,567.2 267.4,561.6 268,556.5 268.6,552.5 269.2,546.8 269.8,541.5 270.4,536 271,532 271.6,529 272.2,528.1 272.8,529.4 273.4,530.8 274,534.7 274.6,538.9 275.2,542.2 275.8,548.4 276.4,554.9 277,560.5 277.6,565.1 278.2,570.8 278.8,575.4 279.4,578.6 280,583.1 280.6,586.3 281.2,587.7 281.8,588.4 282.4,589.9 283,589 283.6,588 284.2,587.1 284.8,585.6 285.4,585 286,583.6 286.6,582.2 287.2,580.1 287.8,577.7 288.4,576.6 289,575.8 289.6,574.6 290.2,575.5 290.8,574.3 291.4,574.8 292,577 292.6,578.4 293.2,579.6 293.8,581.2 294.4,583.3 295,585.4 295.6,586.9 296.2,588 296.8,589.8 297.4,591.5 298,592.2 298.6,591.2 299.2,592.6 299.8,593.1 300.4,593 301,592.4 301.6,591.3 302.2,589.3 302.8,586.8 303.4,584.8 304,583 304.6,579.4 305.2,577 305.8,574.8 306.4,571.1 307,567 307.6,565 308.2,562 308.8,559.5 309.4,557.5 310,555.3 310.6,553.8 311.2,554.2 311.8,555 312.4,556.6 313,559.1 313.6,561.7 314.2,564.2 314.8,567 315.4,570.1 316,572.5 316.6,575.5 317.2,579.5 317.8,581.7 318.4,584.1 319,586.4 319.6,588.6 320.2,590.6 320.8,592.2 321.4,593.4 322,595.1 322.6,595.3 323.2,596.2 323.8,595.1 324.4,595.6 325,596.8 325.6,596.4 326.2,596.2 326.8,596.5 327.4,596 328,596.1 328.6,595.2 329.2,595.7 329.8,595.6 330.4,595.6 331,594.6 331.6,592.4 332.2,591.4 332.8,588.1 333.4,584.5 334,581.9 334.6,580.9 335.2,577.2 335.8,573.4 336.4,569.8 337,566.3 337.6,563.9 338.2,560 338.8,557.1 339.4,552.6 340,548.4 340.6,547.2 341.2,545.3 341.8,545.1 342.4,546.8 343,548.3 343.6,551.5 344.2,554.1 344.8,557.1 345.4,561 346,564.3 346.6,568.6 347.2,572.1 347.8,575 348.4,578.4 349,581.4 349.6,583.9 350.2,586.8 350.8,588.8 351.4,591.1 352,592.3 352.6,594 353.2,595.1 353.8,595.1 354.4,595.4 355,595.8 355.6,596.4 356.2,596 356.8,596.7 357.4,597.4 358,596.8 358.6,596 359.2,596.9 359.8,597.5 360.4,597.2 361,597.9 361.6,597.9 362.2,597.8 362.8,597.4 363.4,597.4 364,597.6 364.6,597.8 365.2,598.1 365.8,598 366.4,597.7 367,597.9 367.6,597.8 368.2,596.9 368.8,597.1 369.4,597.3 370,597.6 370.6,597.6 371.2,597.5 371.8,597.4 372.4,598.1 373,597.8 373.6,597 374.2,597.5 374.8,597.4 375.4,598.5 376,597.7 376.6,597.6 377.2,597.8 377.8,597.7 378.4,597.9 379,598.6 379.6,598.1 380.2,598.3 380.8,598.3 381.4,597.5 382,598.4 382.6,598.1 383.2,597.8 383.8,596.8 384.4,597.1 385,596.6 385.6,595.8 386.2,596.3 386.8,594.7 387.4,593.1 388,591.9 388.6,590.6 389.2,588.6 389.8,586 390.4,583.4 391,580.1 391.6,575.1 392.2,571.1 392.8,566.7 393.4,562.6 394,558.4 394.6,553.1 395.2,547.3 395.8,543 396.4,539.2 397,534.7 397.6,531.5 398.2,529.1 398.8,526.7 399.4,526.9 400,527.1 400.6,528.1 401.2,529.4 401.8,532.1 402.4,535.8 403,540.2 403.6,544.7 404.2,549.7 404.8,555.4 405.4,560 406,563.8 406.6,568.5 407.2,573.7 407.8,577.1 408.4,581.3 409,584.5 409.6,586.2 410.2,588.5 410.8,590.5 411.4,591.7 412,592.9 412.6,594.3 413.2,595.7 413.8,595.9 414.4,596.3 415,596.5 415.6,596.6 416.2,597.7 416.8,596.5 417.4,597.1 418,597.7 418.6,597.2 419.2,598 419.8,598.3 420.4,597.5 421,597.7 421.6,597.3 422.2,597.9 422.8,597.9 423.4,598.1 424,598.5 424.6,598.3 425.2,598.6 425.8,598.1 426.4,597.3 427,597.9 427.6,597.9 428.2,597.3 428.8,598.3 429.4,598 430,597.9 430.6,597.4 431.2,597.8 431.8,597.9 432.4,597.7 433,597.6 433.6,597 434.2,598.1 434.8,597.2 435.4,596.6 436,597.1 436.6,597.4 437.2,597.9 437.8,597.5 438.4,597.8 439,597.6 439.6,598.8 440.2,598.5 440.8,598.6 441.4,597.6 442,597.9 442.6,597.4 443.2,597.8 443.8,597.7 444.4,596.6 445,596.4 445.6,596.2 446.2,595.9 446.8,595.9 447.4,595.6 448,595.3 448.6,595.8 449.2,595.8 449.8,594.9 450.4,595.1 451,595.5 451.6,595.5 452.2,595.7 452.8,596.5 453.4,596.9 454,597 454.6,597 455.2,598.1 455.8,598.1 456.4,597.4 457,597.5 457.6,598 458.2,597.5 458.8,597.8 459.4,597.7 460,597.4 460.6,597.4 461.2,596.9 461.8,597.1 462.4,597 463,598.6 463.6,598.6 464.2,598.3 464.8,597.9 465.4,598.1 466,598.1 466.6,597.7 467.2,597.2 467.8,596.2 468.4,596.1 469,595.3 469.6,594.6 470.2,594.2 470.8,594.5 471.4,594.2 472,593 472.6,593.5 473.2,592.9 473.8,591.5 474.4,590.7 475,590.4 475.6,590.2 476.2,589 476.8,588.2 477.4,587.9 478,586.6 478.6,586.9 479.2,587 479.8,586.4 480.4,586.3 481,586.3 481.6,586.5 482.2,586.6 482.8,586.7 483.4,587.3 484,588 484.6,589.1 485.2,589.6 485.8,589.3 486.4,589 487,589.2 487.6,589.9 488.2,590.7 488.8,590.5 489.4,590.3 490,590.2 490.6,590.8 491.2,590.6 491.8,590.4 492.4,590.5 493,590.9 493.6,590.4 494.2,590.8 494.8,590.5 495.4,589.8 496,589.8 496.6,589.4 497.2,589.1 497.8,589.5 498.4,589.8 499,590.7 499.6,591.1 500.2,591.8 500.8,592.1 501.4,591.3 502,592.7 502.6,592.8 503.2,593.8 503.8,594.1 504.4,594.9 505,595.7 505.6,595.1 506.2,595.9 506.8,596.1 507.4,595.8 508,596.8 508.6,596.9 509.2,596.6 509.8,596.8 510.4,597.9 511,596.3 511.6,594.9 512.2,594.2 512.8,593.4 513.4,592.1 514,590.7 514.6,588.9 515.2,587.6 515.8,585.5 516.4,583.1 517,581.2 517.6,579.4 518.2,577.8 518.8,575.5 519.4,572.9 520,570.8 520.6,568.9 521.2,567.2 521.8,564.4 522.4,562.9 523,561.6 523.6,560.6 524.2,561.3 524.8,562.4 525.4,563.9 526,566.2 526.6,568.5 527.2,570.6 527.8,572.3 528.4,574.7 529,577.4 529.6,578.6 530.2,581 530.8,583.4 531.4,585.2 532,587.1 532.6,588.7 533.2,590.5 533.8,592.1 534.4,593 535,594.2 535.6,595 536.2,595.5 536.8,596" fill="none" stroke="#00F0D0" stroke-width="3.6" stroke-linejoin="round" stroke-linecap="round"/>
<polyline points="83.2,667.4 83.8,668.5 84.4,669.4 85,669.5 85.6,668.9 86.2,667.8 86.8,668.7 87.4,667.8 88,668.1 88.6,669 89.2,667.7 89.8,668.4 90.4,668.3 91,667.8 91.6,667.5 92.2,668.1 92.8,667.9 93.4,668.7 94,668.7 94.6,667.2 95.2,667.5 95.8,667.6 96.4,667.1 97,667.2 97.6,667.9 98.2,667.7 98.8,666.9 99.4,667.5 100,668.1 100.6,667.2 101.2,667.5 101.8,669 102.4,668.8 103,667 103.6,667 104.2,667.9 104.8,667.3 105.4,667.6 106,667.8 106.6,668 107.2,666.2 107.8,666.2 108.4,667.1 109,668.4 109.6,667.8 110.2,667 110.8,668.2 111.4,668.5 112,667.9 112.6,667.8 113.2,668.4 113.8,668.8 114.4,668.3 115,668.3 115.6,668 116.2,667.6 116.8,667.4 117.4,668 118,667.8 118.6,667.9 119.2,668.6 119.8,668.5 120.4,668.4 121,667.2 121.6,668.1 122.2,667.6 122.8,667.3 123.4,667.5 124,668.7 124.6,668.6 125.2,667.5 125.8,667.2 126.4,667.8 127,667.9 127.6,668.7 128.2,667.1 128.8,666.7 129.4,667.6 130,668 130.6,668.2 131.2,668.7 131.8,669.3 132.4,668 133,667.4 133.6,666.9 134.2,668 134.8,668.5 135.4,668.1 136,668.7 136.6,668.4 137.2,668.9 137.8,668.3 138.4,667.3 139,667.3 139.6,666.8 140.2,666.8 140.8,668 141.4,668.8 142,669.2 142.6,668.2 143.2,667.7 143.8,667.4 144.4,668.5 145,668.3 145.6,667.8 146.2,668.4 146.8,668.2 147.4,667.1 148,668.2 148.6,668.1 149.2,667.7 149.8,667.9 150.4,669.2 151,669.3 151.6,669.1 152.2,667.5 152.8,667.6 153.4,668.3 154,667.3 154.6,667.2 155.2,667.1 155.8,669 156.4,668.9 157,668.4 157.6,668.1 158.2,667.7 158.8,667.8 159.4,668.2 160,667.8 160.6,668.6 161.2,667.8 161.8,667.6 162.4,668.6 163,668.1 163.6,668.2 164.2,667.6 164.8,666.7 165.4,667.9 166,667.4 166.6,668.3 167.2,667 167.8,666.8 168.4,668 169,668.3 169.6,668 170.2,667.4 170.8,668.2 171.4,667.2 172,667.5 172.6,667.5 173.2,667.8 173.8,668.4 174.4,667.8 175,668.3 175.6,668.3 176.2,667 176.8,667.1 177.4,667.6 178,667.7 178.6,667.9 179.2,667 179.8,668.2 180.4,668.4 181,667.7 181.6,667 182.2,667.5 182.8,667.4 183.4,667.7 184,667.3 184.6,667.3 185.2,666.6 185.8,666.8 186.4,664.7 187,664.9 187.6,665.5 188.2,664.8 188.8,665.7 189.4,665.2 190,665.9 190.6,665.8 191.2,666.4 191.8,667 192.4,667.1 193,667.5 193.6,668.7 194.2,667.8 194.8,667.3 195.4,668.3 196,668.5 196.6,668.8 197.2,668.9 197.8,667.7 198.4,668.5 199,668.7 199.6,668.1 200.2,667.8 200.8,666.3 201.4,667.5 202,668.7 202.6,667.2 203.2,667.5 203.8,668.2 204.4,668.5 205,668.8 205.6,667.2 206.2,667.9 206.8,668.3 207.4,667.4 208,668 208.6,669.2 209.2,669 209.8,668.1 210.4,666.6 211,667.7 211.6,668.2 212.2,667.8 212.8,668.2 213.4,669.5 214,667.9 214.6,667.1 215.2,667.4 215.8,667 216.4,666.7 217,666.6 217.6,666.6 218.2,665.7 218.8,664.1 219.4,663.5 220,662.5 220.6,660.7 221.2,659.7 221.8,657.3 222.4,653.9 223,651.6 223.6,649.2 224.2,645.4 224.8,640.8 225.4,637.1 226,632.4 226.6,628.3 227.2,625.5 227.8,622 228.4,619.1 229,616.9 229.6,616.2 230.2,616.6 230.8,619 231.4,621.9 232,624.8 232.6,628.3 233.2,630.8 233.8,635 234.4,640.1 235,644.1 235.6,646.8 236.2,649.6 236.8,652 237.4,655.2 238,657.3 238.6,658.1 239.2,660.4 239.8,661.8 240.4,662.6 241,662.7 241.6,663.7 242.2,663.5 242.8,665 243.4,664.7 244,664.5 244.6,665.8 245.2,666.1 245.8,665.7 246.4,666.8 247,665.9 247.6,666.6 248.2,667 248.8,665.9 249.4,667.4 250,667.4 250.6,667.4 251.2,667.2 251.8,667.8 252.4,667.3 253,667.3 253.6,667.5 254.2,667.5 254.8,668.4 255.4,667.2 256,667 256.6,667.1 257.2,667.1 257.8,667.2 258.4,666.8 259,665.6 259.6,664.6 260.2,663.8 260.8,662.7 261.4,660.7 262,657.6 262.6,654.4 263.2,652.9 263.8,648.7 264.4,643.7 265,638.7 265.6,633.1 266.2,627.6 266.8,622.7 267.4,617.6 268,612.5 268.6,608 269.2,605.7 269.8,605 270.4,605.2 271,607.1 271.6,609.3 272.2,613.5 272.8,617.4 273.4,620.8 274,624.9 274.6,630 275.2,634.1 275.8,638.7 276.4,642.3 277,645.8 277.6,648.1 278.2,649.7 278.8,651.9 279.4,653.1 280,653.8 280.6,653.1 281.2,652.3 281.8,651.8 282.4,650.6 283,648.9 283.6,647.4 284.2,645.6 284.8,644.2 285.4,643 286,641.9 286.6,641.6 287.2,642.4 287.8,644.4 288.4,644.9 289,646.2 289.6,647.8 290.2,649.3 290.8,650.4 291.4,650.4 292,650.3 292.6,650.8 293.2,649.4 293.8,648.5 294.4,646.3 295,643.7 295.6,640.4 296.2,635.8 296.8,630.9 297.4,626.3 298,622.2 298.6,618.4 299.2,614.3 299.8,612.8 300.4,612.3 301,613.5 301.6,615.6 302.2,619.1 302.8,622.8 303.4,627.1 304,631.2 304.6,636.7 305.2,641.9 305.8,645.6 306.4,649.2 307,652.1 307.6,655.7 308.2,657.3 308.8,659.6 309.4,660.8 310,661.7 310.6,663.3 311.2,663.6 311.8,664.1 312.4,664.5 313,664.6 313.6,664.8 314.2,665.3 314.8,665.3 315.4,665.6 316,665.5 316.6,665.3 317.2,665.7 317.8,666 318.4,666.5 319,666.8 319.6,665.7 320.2,665.8 320.8,664.6 321.4,664.3 322,663.6 322.6,661.7 323.2,660.5 323.8,659.9 324.4,658.2 325,655.8 325.6,653.2 326.2,651.2 326.8,647 327.4,643 328,640.3 328.6,636.1 329.2,631.9 329.8,628.6 330.4,624.6 331,621.1 331.6,617.6 332.2,614.6 332.8,614 333.4,613.7 334,614.4 334.6,616.9 335.2,620.5 335.8,623.4 336.4,627.1 337,630.9 337.6,634.3 338.2,637.5 338.8,642 339.4,646 340,649.3 340.6,652.5 341.2,654.5 341.8,656.6 342.4,658.6 343,659.6 343.6,661.6 344.2,662.8 344.8,663.4 345.4,664.3 346,664.2 346.6,663.8 347.2,664.7 347.8,664.8 348.4,665 349,665.3 349.6,666 350.2,665.8 350.8,665.6 351.4,666.2 352,666.6 352.6,666.2 353.2,666.4 353.8,666.7 354.4,666.9 355,667.6 355.6,668.3 356.2,668.8 356.8,668.7 357.4,668.6 358,668.7 358.6,668.7 359.2,668 359.8,668.3 360.4,668.2 361,667.9 361.6,667.7 362.2,667.7 362.8,667.7 363.4,667.5 364,668.1 364.6,668 365.2,668.1 365.8,668.2 366.4,668.3 367,667.8 367.6,667.7 368.2,667.1 368.8,666.7 369.4,667.1 370,668.3 370.6,667.4 371.2,668.2 371.8,668.6 372.4,668.1 373,668.8 373.6,669 374.2,668.8 374.8,669.2 375.4,668.4 376,667.8 376.6,668.1 377.2,667.6 377.8,667.1 378.4,667.2 379,668.3 379.6,667.2 380.2,666.8 380.8,666.4 381.4,666.3 382,665.8 382.6,665.1 383.2,663.9 383.8,662.8 384.4,661.8 385,660.9 385.6,659.8 386.2,657.6 386.8,655.4 387.4,652 388,648.2 388.6,643.9 389.2,640 389.8,635 390.4,631.3 391,627.7 391.6,622.9 392.2,618.5 392.8,613.4 393.4,608.6 394,605 394.6,602.1 395.2,601 395.8,600.9 396.4,601.2 397,603.7 397.6,607.2 398.2,610.9 398.8,614.7 399.4,619.4 400,623.9 400.6,628.2 401.2,632.1 401.8,636.6 402.4,640.5 403,645.1 403.6,647.9 404.2,650.8 404.8,653.2 405.4,655.1 406,656.6 406.6,658.2 407.2,660.8 407.8,661.5 408.4,662.3 409,663.4 409.6,663.2 410.2,663.5 410.8,663.8 411.4,664.4 412,664.5 412.6,664.6 413.2,664.7 413.8,665.2 414.4,665.6 415,664.9 415.6,665.6 416.2,666 416.8,666.1 417.4,666 418,667.1 418.6,667 419.2,667.3 419.8,667.4 420.4,667.1 421,667.5 421.6,667.1 422.2,667.4 422.8,667.8 423.4,668 424,668 424.6,668.2 425.2,668.9 425.8,668.3 426.4,667.5 427,667.6 427.6,667.7 428.2,667.8 428.8,667.7 429.4,667.7 430,668.6 430.6,668.1 431.2,667.8 431.8,667.8 432.4,667.9 433,668.4 433.6,668.2 434.2,667.9 434.8,666.5 435.4,667.5 436,668 436.6,668.1 437.2,667.1 437.8,666.2 438.4,666.7 439,666.1 439.6,665.4 440.2,665.7 440.8,666.3 441.4,666.3 442,665.8 442.6,665.4 443.2,666.3 443.8,665.4 444.4,665.6 445,665.5 445.6,666.6 446.2,666.7 446.8,667 447.4,666.9 448,667 448.6,667.1 449.2,666.7 449.8,667.7 450.4,667.9 451,667.4 451.6,667.5 452.2,667.8 452.8,668.2 453.4,667.8 454,667.5 454.6,667.1 455.2,666.7 455.8,667 456.4,667.2 457,667 457.6,667 458.2,667.1 458.8,666.7 459.4,666.4 460,666.1 460.6,665.6 461.2,665.1 461.8,664.7 462.4,663.7 463,663.9 463.6,662.8 464.2,662.6 464.8,661.7 465.4,661 466,659.7 466.6,658.5 467.2,658.2 467.8,657.1 468.4,656.1 469,655.2 469.6,654.6 470.2,653.6 470.8,652.3 471.4,650.8 472,650.2 472.6,649.7 473.2,649.5 473.8,648.4 474.4,647.9 475,648.2 475.6,648.2 476.2,648.7 476.8,649.4 477.4,649.7 478,651.3 478.6,652 479.2,652.5 479.8,653.1 480.4,654.5 481,655.8 481.6,656.1 482.2,656.8 482.8,658.1 483.4,658.3 484,659 484.6,660.5 485.2,661.3 485.8,662.2 486.4,662.8 487,663.5 487.6,663.8 488.2,664 488.8,664.5 489.4,665.3 490,665.8 490.6,666.1 491.2,666 491.8,665 492.4,665.7 493,666.2 493.6,666.4 494.2,666.1 494.8,667 495.4,666.8 496,666.5 496.6,666.6 497.2,666.4 497.8,666.3 498.4,666.5 499,666.1 499.6,665.6 500.2,665.7 500.8,665.6 501.4,665.1 502,665.2 502.6,664.1 503.2,664 503.8,662.8 504.4,661.1 505,660.1 505.6,659 506.2,656.7 506.8,654.2 507.4,652.4 508,650.4 508.6,646.9 509.2,644.7 509.8,641.9 510.4,639.1 511,636.3 511.6,633.7 512.2,631.6 512.8,629.3 513.4,627.3 514,627 514.6,626.5 515.2,627.8 515.8,629.1 516.4,631 517,632.6 517.6,634.5 518.2,636.2 518.8,638.4 519.4,640.3 520,642.7 520.6,643.9 521.2,646.1 521.8,647.8 522.4,649.2 523,650.5 523.6,652.1 524.2,652.9 524.8,654.3 525.4,656.1 526,656.8 526.6,658.4 527.2,658.9 527.8,659.6 528.4,660.3 529,661.1 529.6,661.5 530.2,662.1 530.8,662.8 531.4,663.8 532,664.4 532.6,664.9 533.2,664.9 533.8,665 534.4,665 535,666 535.6,666.4 536.2,666.4 536.8,666.8" fill="none" stroke="#00C0FF" stroke-width="3.6" stroke-linejoin="round" stroke-linecap="round"/>
<polyline points="83.2,741.8 83.8,741.4 84.4,741.7 85,741.2 85.6,740.1 86.2,740.5 86.8,740.8 87.4,741.2 88,740.6 88.6,740.6 89.2,740.5 89.8,740.9 90.4,741.2 91,741.7 91.6,741.6 92.2,741.3 92.8,741.2 93.4,741.2 94,741.3 94.6,741.6 95.2,739.8 95.8,740.7 96.4,741.4 97,741.6 97.6,740.6 98.2,741.2 98.8,741.5 99.4,740.7 100,739.9 100.6,740.5 101.2,740.4 101.8,741.2 102.4,740.9 103,742 103.6,741.3 104.2,740.6 104.8,740.6 105.4,740.4 106,741.3 106.6,741.9 107.2,741.2 107.8,741.4 108.4,740.7 109,741.4 109.6,742.2 110.2,740.7 110.8,741.7 111.4,741.6 112,740 112.6,739.9 113.2,740.5 113.8,741.4 114.4,740.9 115,741 115.6,741.4 116.2,741.2 116.8,741.2 117.4,741 118,741.5 118.6,741 119.2,741.8 119.8,741 120.4,740.7 121,741.4 121.6,741.1 122.2,740.1 122.8,740.8 123.4,740.3 124,740.5 124.6,741.3 125.2,740.7 125.8,741.1 126.4,741.1 127,742.1 127.6,741.1 128.2,740.3 128.8,740.2 129.4,740.5 130,741 130.6,741.2 131.2,741.6 131.8,741.3 132.4,741.2 133,741.2 133.6,741.1 134.2,741.3 134.8,741.6 135.4,741.5 136,740.6 136.6,739.9 137.2,740.4 137.8,740.8 138.4,739.7 139,740.6 139.6,741.2 140.2,740.7 140.8,740.6 141.4,742 142,742 142.6,741.2 143.2,741.9 143.8,741.8 144.4,740.9 145,742.2 145.6,740.8 146.2,740.7 146.8,740.4 147.4,740.8 148,740.4 148.6,741 149.2,741.6 149.8,741.2 150.4,741.1 151,741.7 151.6,740.9 152.2,741.4 152.8,741 153.4,741.1 154,741.1 154.6,741.1 155.2,740.9 155.8,740.6 156.4,740.7 157,741.2 157.6,740.9 158.2,740.3 158.8,740.5 159.4,740.6 160,740.9 160.6,741.1 161.2,741 161.8,740.7 162.4,740.8 163,740 163.6,739.4 164.2,740.5 164.8,740.1 165.4,740.2 166,740.4 166.6,741.1 167.2,740.5 167.8,741 168.4,740.7 169,740.2 169.6,740.1 170.2,741.1 170.8,741.4 171.4,741.7 172,742.1 172.6,741.4 173.2,741.2 173.8,741 174.4,741 175,740.7 175.6,740.7 176.2,741.7 176.8,740.3 177.4,741 178,741.2 178.6,741 179.2,740.4 179.8,740.6 180.4,740.4 181,740.2 181.6,740.5 182.2,740.3 182.8,740.2 183.4,740.4 184,739.5 184.6,739.6 185.2,739 185.8,739 186.4,738.6 187,738.3 187.6,737.5 188.2,737.4 188.8,737.6 189.4,738.3 190,739.1 190.6,739.5 191.2,739.1 191.8,739.4 192.4,738.8 193,738.7 193.6,739.5 194.2,739.8 194.8,739.4 195.4,739.5 196,740.6 196.6,740.1 197.2,740 197.8,741.7 198.4,741 199,740.7 199.6,741 200.2,740.7 200.8,741.4 201.4,740.2 202,740.1 202.6,740.7 203.2,740.7 203.8,741.4 204.4,740.3 205,740.5 205.6,741.1 206.2,741.4 206.8,741.6 207.4,741.5 208,742.1 208.6,741 209.2,741.1 209.8,741.4 210.4,740.8 211,740.6 211.6,740.3 212.2,739.9 212.8,739.4 213.4,739.1 214,738.4 214.6,738.5 215.2,737.5 215.8,738.5 216.4,737.9 217,736.6 217.6,734.8 218.2,733.3 218.8,732.1 219.4,729.1 220,725.3 220.6,720.4 221.2,715.9 221.8,709.9 222.4,704.5 223,698.3 223.6,693.5 224.2,689.1 224.8,684.7 225.4,682 226,681.7 226.6,682.7 227.2,685.6 227.8,688.2 228.4,693.9 229,698.9 229.6,703.1 230.2,708.5 230.8,714.5 231.4,718.5 232,722.6 232.6,726.2 233.2,728.2 233.8,729.9 234.4,730.6 235,732 235.6,733.2 236.2,733.3 236.8,732.9 237.4,734.4 238,734.9 238.6,735.1 239.2,736.2 239.8,735.9 240.4,737.5 241,737.4 241.6,738.5 242.2,738.3 242.8,738.2 243.4,739.2 244,740 244.6,740.5 245.2,740.9 245.8,740.4 246.4,741.1 247,741.3 247.6,740.8 248.2,740.4 248.8,740.5 249.4,741.3 250,741.3 250.6,740.5 251.2,740.4 251.8,741.2 252.4,740.3 253,740.7 253.6,740.2 254.2,739.6 254.8,740 255.4,739.8 256,740.2 256.6,740 257.2,738.5 257.8,738.2 258.4,737.5 259,736 259.6,734.9 260.2,734.6 260.8,732.2 261.4,729.6 262,726.1 262.6,721.9 263.2,716.9 263.8,712.3 264.4,707 265,700.8 265.6,694.8 266.2,690.1 266.8,685.1 267.4,682.2 268,681.8 268.6,682.8 269.2,684.2 269.8,687.1 270.4,691.8 271,695.5 271.6,701 272.2,707 272.8,711.5 273.4,714.9 274,718.5 274.6,722.4 275.2,724 275.8,724.6 276.4,724.9 277,723.5 277.6,721.3 278.2,719.7 278.8,716.1 279.4,712 280,708 280.6,704.6 281.2,700.5 281.8,697.6 282.4,695 283,694.4 283.6,694.4 284.2,695.7 284.8,697.8 285.4,701.2 286,705.2 286.6,708.4 287.2,708 287.8,707.6 288.4,706.6 289,703.6 289.6,699 290.2,694.3 290.8,688.7 291.4,684.1 292,680 292.6,676.4 293.2,673.1 293.8,672.5 294.4,674.5 295,678.2 295.6,682.4 296.2,687.3 296.8,693.5 297.4,699.7 298,705 298.6,710.6 299.2,716.7 299.8,721.4 300.4,725.1 301,727.2 301.6,728.6 302.2,729.8 302.8,730.5 303.4,731.4 304,732.3 304.6,733.1 305.2,734.2 305.8,733.9 306.4,734.7 307,735.3 307.6,736.6 308.2,736.7 308.8,737 309.4,737.9 310,738.2 310.6,738.5 311.2,739.7 311.8,739.9 312.4,740.4 313,740.3 313.6,739.8 314.2,739.1 314.8,738.4 315.4,738.5 316,738 316.6,737.5 317.2,736.6 317.8,735.5 318.4,734.5 319,734.1 319.6,732.8 320.2,730.1 320.8,727.3 321.4,723.8 322,718.7 322.6,714 323.2,709.1 323.8,705 324.4,699.9 325,694.5 325.6,689.5 326.2,685.9 326.8,683.1 327.4,680.8 328,680.6 328.6,682.4 329.2,684.7 329.8,688.7 330.4,693 331,696.9 331.6,701.5 332.2,706.6 332.8,711.3 333.4,715.8 334,720.1 334.6,723.5 335.2,725.8 335.8,727.9 336.4,729.9 337,731.3 337.6,732.1 338.2,732.1 338.8,733.3 339.4,733.8 340,734 340.6,734.6 341.2,735.3 341.8,736 342.4,735.5 343,736.3 343.6,736.5 344.2,737 344.8,738 345.4,738.2 346,737.9 346.6,738.6 347.2,739.1 347.8,739.1 348.4,740.2 349,740.4 349.6,740.7 350.2,741.1 350.8,741.7 351.4,741.1 352,741 352.6,741.6 353.2,740.9 353.8,740.6 354.4,740.5 355,741.3 355.6,741.2 356.2,741.2 356.8,741.1 357.4,740.9 358,740.6 358.6,740.6 359.2,741.1 359.8,741.2 360.4,741.6 361,740.8 361.6,740.6 362.2,740.6 362.8,741.3 363.4,740.6 364,741.2 364.6,741.4 365.2,740.8 365.8,740.7 366.4,739.7 367,739.8 367.6,739.4 368.2,739.7 368.8,739.4 369.4,738.6 370,738.4 370.6,737.2 371.2,735.7 371.8,734.3 372.4,732.8 373,732.3 373.6,732.2 374.2,730.9 374.8,731 375.4,731.3 376,732.5 376.6,733.4 377.2,734 377.8,734.4 378.4,735.8 379,737.1 379.6,737.1 380.2,737.3 380.8,736.8 381.4,736.2 382,736.6 382.6,736.4 383.2,735.6 383.8,735.1 384.4,734.7 385,733.7 385.6,732.9 386.2,731.2 386.8,728.4 387.4,726.2 388,722.6 388.6,718.5 389.2,714.4 389.8,709.7 390.4,705.5 391,701.1 391.6,696 392.2,690.8 392.8,686.9 393.4,683.9 394,681 394.6,679.8 395.2,680.8 395.8,683.1 396.4,686.2 397,689.9 397.6,693.5 398.2,697.8 398.8,702.3 399.4,706.7 400,710.6 400.6,715.4 401.2,719.4 401.8,723.7 402.4,726.8 403,728.7 403.6,729.7 404.2,730.3 404.8,731.5 405.4,732 406,732.7 406.6,732.8 407.2,733.4 407.8,734.3 408.4,735.2 409,735.2 409.6,736.4 410.2,736.8 410.8,735.9 411.4,736.4 412,736.6 412.6,737.2 413.2,737.6 413.8,738.2 414.4,739.1 415,739.5 415.6,739.6 416.2,739.9 416.8,740.3 417.4,740.6 418,740.9 418.6,741 419.2,741 419.8,740.6 420.4,741.3 421,741.7 421.6,741.1 422.2,740.6 422.8,741.3 423.4,740.7 424,739.9 424.6,740.7 425.2,741.2 425.8,741.3 426.4,741.5 427,741.3 427.6,740.9 428.2,740.2 428.8,740.4 429.4,740.9 430,741 430.6,740.4 431.2,740.5 431.8,740.6 432.4,739.7 433,739.5 433.6,739.9 434.2,739.9 434.8,739.1 435.4,738.2 436,738.4 436.6,737.8 437.2,738 437.8,737.7 438.4,737.7 439,737.9 439.6,737.8 440.2,738.5 440.8,739.1 441.4,739.3 442,739.8 442.6,739.6 443.2,740.2 443.8,740.2 444.4,740 445,740.3 445.6,740.2 446.2,740.3 446.8,740.6 447.4,741 448,740.6 448.6,740.6 449.2,740.2 449.8,740.8 450.4,741.2 451,741.1 451.6,740.8 452.2,740.2 452.8,739.9 453.4,739.9 454,739.4 454.6,739.3 455.2,739.7 455.8,739.2 456.4,739.5 457,738.4 457.6,738.4 458.2,737.7 458.8,737.5 459.4,736.6 460,735.9 460.6,734.7 461.2,733 461.8,731.6 462.4,729.8 463,727.2 463.6,725.3 464.2,723 464.8,721 465.4,719.3 466,716 466.6,714.2 467.2,712.3 467.8,711.6 468.4,711.6 469,713 469.6,713.2 470.2,714.8 470.8,716.3 471.4,717.6 472,719.8 472.6,722.2 473.2,723.8 473.8,725.8 474.4,727.8 475,729.2 475.6,731.2 476.2,733.1 476.8,734.3 477.4,734.6 478,735.3 478.6,735.9 479.2,736.3 479.8,736.8 480.4,737 481,737.1 481.6,736.8 482.2,737.1 482.8,737.6 483.4,737.4 484,737.9 484.6,737.8 485.2,737.9 485.8,738.3 486.4,738 487,737.9 487.6,738 488.2,738.5 488.8,739.1 489.4,738 490,738.5 490.6,738.7 491.2,739.1 491.8,738.7 492.4,738.2 493,739.1 493.6,738.6 494.2,738.5 494.8,738 495.4,737.8 496,737.7 496.6,737.8 497.2,737.3 497.8,736.3 498.4,735.8 499,734.7 499.6,733.5 500.2,731.7 500.8,729.4 501.4,726.4 502,723.5 502.6,720.5 503.2,717.3 503.8,714.1 504.4,711.5 505,707.9 505.6,705 506.2,702.1 506.8,699.7 507.4,697.3 508,697.6 508.6,697.5 509.2,698.6 509.8,701.2 510.4,704.3 511,706.5 511.6,708.8 512.2,712 512.8,715.5 513.4,717.9 514,721.2 514.6,724.3 515.2,727.5 515.8,729.2 516.4,731.1 517,731.8 517.6,732.6 518.2,733.8 518.8,734.2 519.4,734.1 520,735.1 520.6,735.5 521.2,735.5 521.8,736 522.4,736.3 523,736.4 523.6,736.6 524.2,736.9 524.8,737.2 525.4,737.3 526,737.8 526.6,737.8 527.2,738.4 527.8,738.7 528.4,738.8 529,739.7 529.6,740.4 530.2,740.4 530.8,740 531.4,740.8 532,740.8 532.6,740.8 533.2,740.7 533.8,741 534.4,741.4 535,741.2 535.6,740.9 536.2,740.7 536.8,740.8" fill="none" stroke="#1070FF" stroke-width="3.6" stroke-linejoin="round" stroke-linecap="round"/>
<polyline points="83.2,815.5 83.8,816 84.4,814.6 85,814.8 85.6,814.7 86.2,814.6 86.8,815.2 87.4,815.2 88,814.1 88.6,814.4 89.2,815.6 89.8,815.4 90.4,815.2 91,814.7 91.6,814.8 92.2,815.1 92.8,814.6 93.4,814.3 94,814.9 94.6,815.4 95.2,814.6 95.8,815.5 96.4,815.4 97,814.6 97.6,814.9 98.2,815 98.8,815.4 99.4,815.3 100,814.2 100.6,814.2 101.2,815.4 101.8,815.2 102.4,815.3 103,815.4 103.6,815.7 104.2,814.6 104.8,815.3 105.4,814.7 106,815.4 106.6,815.6 107.2,814.4 107.8,815 108.4,814.8 109,814.8 109.6,814.8 110.2,814.3 110.8,814.4 111.4,815.3 112,815.4 112.6,814.6 113.2,814.4 113.8,816.2 114.4,815.9 115,815.2 115.6,814.4 116.2,814.6 116.8,814.9 117.4,814.7 118,815.7 118.6,815.3 119.2,815.1 119.8,814.4 120.4,814.3 121,814.5 121.6,815 122.2,814.8 122.8,814.8 123.4,815.1 124,815.3 124.6,815.8 125.2,814.9 125.8,814.4 126.4,815 127,815.7 127.6,814.9 128.2,814.9 128.8,814.8 129.4,815.2 130,815.1 130.6,814.5 131.2,814.9 131.8,815.6 132.4,815.8 133,815.7 133.6,815.5 134.2,814.9 134.8,814.8 135.4,815.3 136,814.5 136.6,814.6 137.2,813.9 137.8,814.5 138.4,814.4 139,814.3 139.6,815.1 140.2,814.6 140.8,814.7 141.4,814.7 142,814.7 142.6,815.6 143.2,814.9 143.8,814.9 144.4,814.3 145,814.5 145.6,814.7 146.2,814.7 146.8,814.7 147.4,815.2 148,815.8 148.6,815.1 149.2,814.8 149.8,815 150.4,816.4 151,816.2 151.6,815.5 152.2,815.3 152.8,814.7 153.4,814.8 154,815.1 154.6,815 155.2,814.5 155.8,814.5 156.4,815.2 157,815 157.6,813.9 158.2,814.9 158.8,815.6 159.4,814.8 160,814.9 160.6,814.3 161.2,815.1 161.8,814.4 162.4,814.2 163,814.9 163.6,816.1 164.2,814.8 164.8,814.3 165.4,815.1 166,815.3 166.6,815.7 167.2,814.3 167.8,814 168.4,814.7 169,815.2 169.6,815.3 170.2,815.4 170.8,814.2 171.4,814.4 172,814.9 172.6,815.4 173.2,815.3 173.8,814.7 174.4,814.5 175,815.4 175.6,815.8 176.2,816.4 176.8,815.3 177.4,815.6 178,814.4 178.6,814.3 179.2,814.2 179.8,814.1 180.4,813.8 181,813.6 181.6,813.4 182.2,812.9 182.8,812.8 183.4,812.2 184,812.1 184.6,812.8 185.2,812.7 185.8,812.9 186.4,813.3 187,813.8 187.6,814.2 188.2,814 188.8,815 189.4,815.5 190,815.2 190.6,814.3 191.2,813.8 191.8,814.4 192.4,814.9 193,815.2 193.6,814.7 194.2,814.7 194.8,815.2 195.4,814.4 196,814.7 196.6,814.2 197.2,813 197.8,813.1 198.4,812.7 199,812.2 199.6,811.9 200.2,812.4 200.8,813.6 201.4,813.8 202,814.2 202.6,813.9 203.2,814.2 203.8,814.3 204.4,813.7 205,813.8 205.6,814.8 206.2,814.8 206.8,814.4 207.4,814.7 208,815.2 208.6,815.3 209.2,813.9 209.8,814.1 210.4,814.3 211,813.1 211.6,812.6 212.2,810.6 212.8,811.4 213.4,810.1 214,808.2 214.6,807.5 215.2,805.1 215.8,801.5 216.4,796.9 217,791.1 217.6,785.2 218.2,779.9 218.8,774.9 219.4,770.5 220,766.6 220.6,765 221.2,765.6 221.8,767.6 222.4,772 223,776.2 223.6,779.5 224.2,784.5 224.8,789.3 225.4,794.2 226,798.9 226.6,801.4 227.2,803.4 227.8,805.2 228.4,806.6 229,806.8 229.6,807.4 230.2,808.5 230.8,808.9 231.4,809.4 232,810 232.6,809.7 233.2,810.5 233.8,810.8 234.4,811.8 235,812.1 235.6,811.7 236.2,812.7 236.8,812.2 237.4,813.2 238,813.1 238.6,812.7 239.2,812.8 239.8,813.4 240.4,813.8 241,813.8 241.6,814.4 242.2,813.9 242.8,814.4 243.4,814.5 244,813.9 244.6,814.6 245.2,814 245.8,813.4 246.4,814.3 247,814.8 247.6,815.2 248.2,814.9 248.8,815.7 249.4,815.8 250,815.7 250.6,815.6 251.2,814.9 251.8,814.2 252.4,814.2 253,813.9 253.6,812.9 254.2,811.8 254.8,810.7 255.4,810.8 256,810 256.6,808.5 257.2,808 257.8,806.7 258.4,803.9 259,800.5 259.6,795.4 260.2,788.5 260.8,782.3 261.4,775.8 262,769.1 262.6,762.1 263.2,754.4 263.8,749.7 264.4,746.8 265,746 265.6,747.4 266.2,749.9 266.8,754.8 267.4,760.7 268,767.7 268.6,773.7 269.2,781 269.8,787 270.4,791.4 271,794 271.6,796.9 272.2,798.7 272.8,798.3 273.4,798.2 274,797.1 274.6,795.1 275.2,791.4 275.8,786.8 276.4,781.5 277,776.6 277.6,772.1 278.2,768.9 278.8,766.5 279.4,765.8 280,764.8 280.6,765.7 281.2,765 281.8,764.4 282.4,762.7 283,761.2 283.6,759.8 284.2,758.5 284.8,759.7 285.4,762.9 286,767.9 286.6,773.4 287.2,780.4 287.8,787 288.4,792.5 289,797.3 289.6,800.4 290.2,803.9 290.8,805.6 291.4,807.3 292,807.3 292.6,808 293.2,809.3 293.8,809.5 294.4,810.8 295,811.3 295.6,812.1 296.2,813.1 296.8,813.8 297.4,815 298,814.8 298.6,814.3 299.2,815.1 299.8,814.5 300.4,814.8 301,814.4 301.6,814.6 302.2,815.4 302.8,814.8 303.4,814.6 304,814.6 304.6,814.9 305.2,815.5 305.8,814.5 306.4,814.3 307,814.8 307.6,814 308.2,814.2 308.8,814.5 309.4,813.6 310,812.6 310.6,811.9 311.2,811.1 311.8,810.7 312.4,810.5 313,810.3 313.6,809.4 314.2,807.6 314.8,805.9 315.4,803.7 316,799.3 316.6,794.9 317.2,789.4 317.8,782.9 318.4,776.5 319,770.3 319.6,763.2 320.2,757.1 320.8,751.9 321.4,747.9 322,745.4 322.6,746.3 323.2,748.3 323.8,752.2 324.4,757.2 325,762.8 325.6,768.9 326.2,775.9 326.8,781.9 327.4,787.6 328,793 328.6,796.5 329.2,799.7 329.8,801.4 330.4,802.3 331,803.5 331.6,803.6 332.2,804.8 332.8,805.2 333.4,806.3 334,807.4 334.6,807.7 335.2,807.8 335.8,808.5 336.4,809 337,809.3 337.6,810 338.2,811.2 338.8,811.9 339.4,811.8 340,812.9 340.6,813.9 341.2,814.1 341.8,814.2 342.4,815 343,814.5 343.6,815.2 344.2,815.5 344.8,814.3 345.4,814.9 346,815.1 346.6,815 347.2,814.6 347.8,814.6 348.4,814.3 349,814.8 349.6,815 350.2,814.4 350.8,814.1 351.4,814.2 352,814.4 352.6,814.3 353.2,814.1 353.8,813.7 354.4,812.6 355,811.6 355.6,812.1 356.2,811.5 356.8,809.5 357.4,808.7 358,808.4 358.6,808 359.2,807.7 359.8,807.8 360.4,807.8 361,808.5 361.6,809.3 362.2,810 362.8,811.4 363.4,812.2 364,812.9 364.6,813 365.2,813.6 365.8,813.2 366.4,813.5 367,812.7 367.6,813.3 368.2,814.1 368.8,814 369.4,814.1 370,813.8 370.6,814.9 371.2,814.8 371.8,814.6 372.4,814.8 373,815 373.6,815.3 374.2,814.8 374.8,813.9 375.4,814.1 376,814.3 376.6,813.6 377.2,812.7 377.8,812.4 378.4,811.7 379,811.1 379.6,809.8 380.2,809.4 380.8,809.3 381.4,808.2 382,807.2 382.6,805.5 383.2,801.8 383.8,797.6 384.4,792.4 385,786.8 385.6,781.1 386.2,774.7 386.8,768.7 387.4,764 388,758.3 388.6,753.8 389.2,749.9 389.8,748.3 390.4,749 391,751.3 391.6,754.6 392.2,759.8 392.8,764.4 393.4,770.3 394,776.8 394.6,781.8 395.2,787.5 395.8,791.9 396.4,796.2 397,799.2 397.6,801.3 398.2,802.2 398.8,803 399.4,804 400,804.1 400.6,804.9 401.2,806 401.8,806.2 402.4,806.6 403,807.1 403.6,808.1 404.2,808.7 404.8,809.4 405.4,810 406,811.1 406.6,810.9 407.2,810.9 407.8,812.1 408.4,812.8 409,813.3 409.6,813.3 410.2,814.5 410.8,814.6 411.4,814.6 412,814.3 412.6,815 413.2,815.1 413.8,815.4 414.4,814.8 415,814.5 415.6,814.8 416.2,814.7 416.8,814.9 417.4,814.6 418,814.8 418.6,814.9 419.2,814.9 419.8,814.7 420.4,814.6 421,814.8 421.6,814.7 422.2,814.9 422.8,814.7 423.4,814.1 424,814.9 424.6,815.5 425.2,815.2 425.8,815.2 426.4,815.1 427,814.7 427.6,814.5 428.2,815.2 428.8,815.4 429.4,815.2 430,815.1 430.6,815.1 431.2,814.9 431.8,814.9 432.4,814.8 433,814.8 433.6,814.3 434.2,814.4 434.8,814.7 435.4,814.3 436,813.7 436.6,814.2 437.2,813.8 437.8,814.9 438.4,814.8 439,814.5 439.6,814 440.2,813.7 440.8,814 441.4,814 442,813.8 442.6,813.9 443.2,814 443.8,813.6 444.4,812.6 445,811.8 445.6,812 446.2,811.6 446.8,811.5 447.4,811.5 448,811 448.6,810.1 449.2,809.8 449.8,809.4 450.4,808.4 451,807.8 451.6,807.4 452.2,806.6 452.8,805.8 453.4,805.3 454,805.1 454.6,804.8 455.2,804.9 455.8,804.6 456.4,804.9 457,804.3 457.6,803.1 458.2,802.9 458.8,802 459.4,801.7 460,800.8 460.6,800 461.2,799.5 461.8,798.9 462.4,799.1 463,799.5 463.6,800.1 464.2,801.1 464.8,802 465.4,803.6 466,804.5 466.6,806.2 467.2,807.5 467.8,808.6 468.4,809.4 469,811.1 469.6,810.9 470.2,811.1 470.8,811.3 471.4,812 472,811.8 472.6,812.2 473.2,811.9 473.8,812.3 474.4,812.4 475,812.8 475.6,812.6 476.2,812.5 476.8,812.9 477.4,812.6 478,812.8 478.6,813.3 479.2,812.9 479.8,813.6 480.4,813.5 481,813.5 481.6,814 482.2,814.3 482.8,814 483.4,814.2 484,814.4 484.6,814.3 485.2,813.8 485.8,813.3 486.4,812.9 487,812.9 487.6,813 488.2,812.8 488.8,812.5 489.4,812.4 490,811.6 490.6,810.9 491.2,810.4 491.8,809.7 492.4,807.1 493,805.4 493.6,802.9 494.2,800 494.8,797.4 495.4,794 496,790.5 496.6,786.9 497.2,784.1 497.8,781.1 498.4,778.8 499,777.3 499.6,776.6 500.2,777.6 500.8,779.5 501.4,781.5 502,783.6 502.6,785.9 503.2,789.6 503.8,792.8 504.4,795.5 505,798.4 505.6,801.4 506.2,803.5 506.8,805.6 507.4,806.5 508,807.3 508.6,808.1 509.2,808.2 509.8,808.9 510.4,809.3 511,809.3 511.6,810 512.2,810.1 512.8,810.7 513.4,810.9 514,811 514.6,811.2 515.2,811.2 515.8,811.7 516.4,812.2 517,813.2 517.6,813.3 518.2,813 518.8,813.8 519.4,814 520,814.1 520.6,814.6 521.2,814.9 521.8,814.7 522.4,814.8 523,814.9 523.6,814.7 524.2,815 524.8,814.9 525.4,814.7 526,814.7 526.6,815.1 527.2,815.3 527.8,815.1 528.4,814.8 529,815.2 529.6,815.1 530.2,815.2 530.8,815.3 531.4,814.8 532,814.9 532.6,814.8 533.2,814.8 533.8,815.6 534.4,815.3 535,814.6 535.6,815 536.2,814.9 536.8,815.3" fill="none" stroke="#3322FF" stroke-width="3.6" stroke-linejoin="round" stroke-linecap="round"/>
<polyline points="83.2,888.2 83.8,888.1 84.4,888.3 85,888.4 85.6,888.2 86.2,888.1 86.8,888.2 87.4,888.3 88,887.7 88.6,888.1 89.2,888.1 89.8,888 90.4,888.4 91,887.6 91.6,887.8 92.2,887.8 92.8,888.3 93.4,888 94,888.2 94.6,888.2 95.2,887.5 95.8,888.2 96.4,887.8 97,888 97.6,888.2 98.2,888.7 98.8,888.9 99.4,889.2 100,888.4 100.6,887.9 101.2,888 101.8,888.7 102.4,889.1 103,888.5 103.6,888 104.2,888.3 104.8,888.4 105.4,888.2 106,887.5 106.6,886.7 107.2,887.8 107.8,888.7 108.4,888.2 109,887.1 109.6,887.8 110.2,887.5 110.8,889 111.4,888.4 112,887.7 112.6,888.4 113.2,887.9 113.8,888.4 114.4,888.1 115,887.7 115.6,888.3 116.2,887.7 116.8,888.7 117.4,888.3 118,887.5 118.6,887.3 119.2,889 119.8,889 120.4,887.9 121,888.9 121.6,888.4 122.2,888.1 122.8,888.1 123.4,888.2 124,888.9 124.6,888.2 125.2,887.5 125.8,889.2 126.4,888.8 127,887.7 127.6,887.8 128.2,887.7 128.8,888.2 129.4,888.4 130,888.3 130.6,887.8 131.2,887.8 131.8,888.5 132.4,888.5 133,889.2 133.6,888.1 134.2,888.5 134.8,888.2 135.4,888 136,888.8 136.6,888.3 137.2,887.7 137.8,888.1 138.4,888.5 139,887.8 139.6,888.8 140.2,888.7 140.8,888.3 141.4,889 142,889.3 142.6,888.7 143.2,888.5 143.8,889.3 144.4,889 145,887.9 145.6,888 146.2,888 146.8,887.8 147.4,887.5 148,888.5 148.6,888.3 149.2,888.4 149.8,888.8 150.4,888.1 151,888.1 151.6,888.3 152.2,888 152.8,888.2 153.4,888.6 154,888.4 154.6,888.8 155.2,888 155.8,888.1 156.4,887.5 157,887.9 157.6,888 158.2,888.9 158.8,888.8 159.4,888.7 160,889.3 160.6,889.2 161.2,888.6 161.8,887.8 162.4,887.4 163,888 163.6,888 164.2,887.8 164.8,887.8 165.4,887.5 166,888.6 166.6,887.7 167.2,887.8 167.8,888.2 168.4,887.6 169,888.6 169.6,888.7 170.2,888 170.8,887.6 171.4,887.7 172,887.4 172.6,888.7 173.2,888.3 173.8,887.7 174.4,887.7 175,888.5 175.6,888.8 176.2,887.5 176.8,887.4 177.4,887 178,887.9 178.6,887.8 179.2,888.2 179.8,886.9 180.4,886.1 181,885.8 181.6,886.2 182.2,885.4 182.8,886.5 183.4,886.7 184,886.6 184.6,886.9 185.2,888.1 185.8,888.6 186.4,887.8 187,888.2 187.6,888.7 188.2,887.8 188.8,887.7 189.4,887.4 190,887.9 190.6,888 191.2,887.9 191.8,887.6 192.4,887.2 193,887.3 193.6,887.7 194.2,888.4 194.8,887.9 195.4,887.8 196,888.5 196.6,888.5 197.2,887.8 197.8,887.9 198.4,888.5 199,888.4 199.6,887.9 200.2,888.2 200.8,888.3 201.4,888.6 202,888 202.6,888.6 203.2,888.4 203.8,887.8 204.4,888.5 205,888.3 205.6,887.3 206.2,887.9 206.8,886.4 207.4,885.8 208,885.8 208.6,885.8 209.2,885.3 209.8,884.5 210.4,884.2 211,882.7 211.6,881.2 212.2,878.8 212.8,873.8 213.4,868.2 214,864.2 214.6,859.5 215.2,855.3 215.8,850.9 216.4,846.6 217,844.2 217.6,843.9 218.2,844.7 218.8,846.4 219.4,851.3 220,855.3 220.6,859.7 221.2,864.2 221.8,868.1 222.4,872.4 223,876.1 223.6,878.5 224.2,879.6 224.8,880.1 225.4,880.6 226,882 226.6,882.2 227.2,882 227.8,881.7 228.4,882.5 229,882.9 229.6,884.7 230.2,884.9 230.8,884.9 231.4,885.8 232,887.5 232.6,887.3 233.2,886.5 233.8,887.1 234.4,887 235,887.1 235.6,888.2 236.2,889.5 236.8,889.2 237.4,888.3 238,888 238.6,888.4 239.2,888.5 239.8,887.4 240.4,887.3 241,888.8 241.6,888.5 242.2,888.8 242.8,888.3 243.4,888.4 244,887.4 244.6,887.5 245.2,887.6 245.8,887 246.4,886.1 247,886.3 247.6,885.7 248.2,885.5 248.8,886.6 249.4,887.3 250,886.8 250.6,885.7 251.2,886 251.8,885.4 252.4,884 253,882.5 253.6,883.2 254.2,882.6 254.8,880.9 255.4,878 256,875.2 256.6,872.1 257.2,866.6 257.8,859.7 258.4,852.1 259,844.6 259.6,836.7 260.2,829.6 260.8,823.4 261.4,819.5 262,817.7 262.6,819.4 263.2,822.8 263.8,827.6 264.4,834.7 265,840.6 265.6,848 266.2,855.1 266.8,860.8 267.4,864.1 268,868.3 268.6,870.5 269.2,870.9 269.8,869.3 270.4,869.4 271,869.1 271.6,868.4 272.2,867.8 272.8,865.4 273.4,863.4 274,859.6 274.6,854.6 275.2,850.4 275.8,846.4 276.4,842.5 277,838.6 277.6,834.3 278.2,830.9 278.8,827 279.4,824.9 280,826.3 280.6,828.8 281.2,831.7 281.8,835.7 282.4,841.3 283,847.1 283.6,851.7 284.2,856.6 284.8,862 285.4,867.7 286,871 286.6,874 287.2,876.3 287.8,877.3 288.4,877.5 289,878.8 289.6,879.6 290.2,880.1 290.8,880.7 291.4,880.7 292,881.3 292.6,881.9 293.2,882.8 293.8,883 294.4,883.7 295,883.8 295.6,884.6 296.2,885.2 296.8,885.8 297.4,886.5 298,886.8 298.6,887.1 299.2,886.9 299.8,888.2 300.4,887.9 301,887.9 301.6,887.9 302.2,888.4 302.8,887.7 303.4,888 304,888.1 304.6,887.9 305.2,887.1 305.8,886 306.4,884.7 307,885 307.6,884.4 308.2,883.3 308.8,882 309.4,879.7 310,876.7 310.6,873.4 311.2,868.3 311.8,861.6 312.4,855.7 313,849.1 313.6,842.6 314.2,836.3 314.8,831.2 315.4,827.3 316,825.2 316.6,824.9 317.2,827.8 317.8,831.3 318.4,835.4 319,840.9 319.6,845.5 320.2,851.4 320.8,856.3 321.4,859.5 322,863 322.6,865.3 323.2,867.1 323.8,868.2 324.4,870.5 325,872.2 325.6,874 326.2,875.5 326.8,877.5 327.4,878.8 328,880.2 328.6,881.6 329.2,882.2 329.8,883.2 330.4,883.8 331,884.5 331.6,884.9 332.2,886 332.8,886.7 333.4,886.7 334,887.2 334.6,887.2 335.2,886.8 335.8,887.4 336.4,887.9 337,887.2 337.6,886.8 338.2,887.6 338.8,887.7 339.4,888.6 340,888.2 340.6,888 341.2,887.9 341.8,888.2 342.4,887.9 343,887.8 343.6,888 344.2,888 344.8,888.5 345.4,887.8 346,887.9 346.6,887.6 347.2,887.5 347.8,888.3 348.4,887.3 349,888 349.6,887.1 350.2,887.4 350.8,887.6 351.4,885.7 352,885.4 352.6,886 353.2,885.2 353.8,884.6 354.4,884.4 355,884.1 355.6,884.7 356.2,885.5 356.8,885.3 357.4,885.8 358,886.8 358.6,887.4 359.2,886.9 359.8,887.2 360.4,887.1 361,887.2 361.6,887.3 362.2,887.2 362.8,886.8 363.4,886.7 364,887.3 364.6,887.9 365.2,888.3 365.8,887.8 366.4,887.9 367,888.3 367.6,888.4 368.2,888.1 368.8,888.3 369.4,888.9 370,888.2 370.6,887.8 371.2,887.4 371.8,887.9 372.4,887.6 373,887.8 373.6,886.7 374.2,886.3 374.8,885.9 375.4,885.3 376,883.8 376.6,883.9 377.2,882.8 377.8,881.8 378.4,880.5 379,878.6 379.6,875.6 380.2,871.1 380.8,866.9 381.4,861.1 382,854.4 382.6,848.4 383.2,842.7 383.8,835.8 384.4,829.5 385,824.9 385.6,820.6 386.2,819.2 386.8,820.1 387.4,823.2 388,828 388.6,833.2 389.2,838.5 389.8,844.8 390.4,851.1 391,857 391.6,862.6 392.2,867.1 392.8,870.7 393.4,873.4 394,874.8 394.6,876.3 395.2,876.9 395.8,877.3 396.4,878 397,878.7 397.6,879.5 398.2,880.3 398.8,880.7 399.4,881.3 400,882.7 400.6,883.2 401.2,883.6 401.8,884.5 402.4,884.9 403,885.3 403.6,886.2 404.2,887.6 404.8,887.7 405.4,888 406,887.8 406.6,888.4 407.2,889.1 407.8,888.6 408.4,888.7 409,888.8 409.6,888.7 410.2,888.9 410.8,888.5 411.4,888.4 412,888.2 412.6,889.1 413.2,888.5 413.8,888.4 414.4,888.7 415,888.1 415.6,888.1 416.2,887.9 416.8,888.1 417.4,888.1 418,888.4 418.6,888.2 419.2,888 419.8,888.1 420.4,888.1 421,888.1 421.6,888.6 422.2,888.5 422.8,888.2 423.4,887.8 424,888.2 424.6,887.8 425.2,888.2 425.8,888.2 426.4,887.9 427,887.8 427.6,888.1 428.2,888.8 428.8,888.2 429.4,888.1 430,888.5 430.6,888.4 431.2,888.3 431.8,887.6 432.4,887.7 433,888.9 433.6,888 434.2,887.7 434.8,887.8 435.4,887.9 436,887.3 436.6,887.5 437.2,887.5 437.8,887.5 438.4,887.2 439,886.6 439.6,885.9 440.2,885.1 440.8,885.4 441.4,884.4 442,884.1 442.6,884.2 443.2,883.1 443.8,882.7 444.4,881.9 445,881.6 445.6,880.8 446.2,880.3 446.8,880.5 447.4,880 448,879.7 448.6,880.2 449.2,880.8 449.8,880.7 450.4,881.6 451,882 451.6,882.3 452.2,881.4 452.8,881.1 453.4,879.9 454,879.5 454.6,878.9 455.2,878 455.8,876.9 456.4,875.9 457,875.2 457.6,875 458.2,875.5 458.8,876.3 459.4,877.4 460,878.6 460.6,879.7 461.2,880.1 461.8,881.6 462.4,882.9 463,883.8 463.6,885 464.2,885.4 464.8,885.4 465.4,885.8 466,886.2 466.6,885.9 467.2,886.1 467.8,886.6 468.4,886.7 469,887 469.6,886.8 470.2,886.8 470.8,886.3 471.4,886.1 472,886.2 472.6,885.6 473.2,886.5 473.8,887 474.4,886.9 475,887.1 475.6,887.6 476.2,887.6 476.8,888.1 477.4,888.5 478,888.2 478.6,888 479.2,887.7 479.8,887.4 480.4,887.1 481,886.9 481.6,886.7 482.2,885.7 482.8,885.8 483.4,885.8 484,885.1 484.6,884.8 485.2,884.2 485.8,883.6 486.4,882.5 487,880.7 487.6,878 488.2,874.8 488.8,872.2 489.4,869.4 490,866.4 490.6,862.5 491.2,860.1 491.8,857.1 492.4,855.7 493,854.7 493.6,854.6 494.2,855.6 494.8,857.1 495.4,859 496,861.9 496.6,864.8 497.2,867.3 497.8,870.1 498.4,872.7 499,875.9 499.6,877.8 500.2,879.4 500.8,880.6 501.4,881.4 502,882.2 502.6,883 503.2,883.3 503.8,883.8 504.4,884 505,883.6 505.6,884.3 506.2,885 506.8,885.4 507.4,884.6 508,884.8 508.6,885.6 509.2,885.7 509.8,885.8 510.4,886.4 511,886.4 511.6,886.3 512.2,887.2 512.8,887.6 513.4,888.1 514,888.3 514.6,888.2 515.2,888.1 515.8,887.9 516.4,887.7 517,888 517.6,888.5 518.2,888.6 518.8,888.8 519.4,888.2 520,887.7 520.6,888.4 521.2,888.5 521.8,887.8 522.4,887.7 523,888.2 523.6,888.4 524.2,887.9 524.8,888 525.4,887.9 526,887.7 526.6,887.8 527.2,888.1 527.8,888.1 528.4,887.8 529,887.5 529.6,888.5 530.2,888 530.8,888 531.4,887.9 532,888.2 532.6,887.8 533.2,888.1 533.8,888.2 534.4,888.4 535,887.9 535.6,887.9 536.2,888.2 536.8,888.8" fill="none" stroke="#7700FF" stroke-width="3.6" stroke-linejoin="round" stroke-linecap="round"/>
<polyline points="83.2,961.4 83.8,962.1 84.4,961.9 85,962.4 85.6,962.6 86.2,962.4 86.8,962.4 87.4,962.3 88,961.9 88.6,961.8 89.2,961.2 89.8,961.7 90.4,961.7 91,962.1 91.6,962.6 92.2,962.6 92.8,962.6 93.4,962.6 94,961.1 94.6,962.2 95.2,962.2 95.8,962 96.4,961.6 97,962.5 97.6,963 98.2,962.9 98.8,962.4 99.4,962.6 100,963 100.6,963.4 101.2,963.1 101.8,962.4 102.4,962.3 103,962.3 103.6,962.3 104.2,962.1 104.8,962.5 105.4,961.8 106,961.7 106.6,962.2 107.2,961.9 107.8,961.8 108.4,961.2 109,962.4 109.6,962.3 110.2,962.2 110.8,962.5 111.4,962.3 112,962.1 112.6,963.1 113.2,962.3 113.8,962.9 114.4,963.2 115,962.1 115.6,962.1 116.2,961.9 116.8,962.6 117.4,962 118,961.7 118.6,962.9 119.2,962.7 119.8,962 120.4,962.7 121,962.7 121.6,963.8 122.2,963.3 122.8,962.1 123.4,961.9 124,961.7 124.6,962.2 125.2,962.3 125.8,962.6 126.4,962.2 127,961.4 127.6,961.8 128.2,963 128.8,962.9 129.4,962.2 130,962.1 130.6,962.1 131.2,962 131.8,961.4 132.4,962.4 133,962 133.6,961.9 134.2,960.9 134.8,962.2 135.4,962.7 136,961.4 136.6,962.8 137.2,962.5 137.8,961.7 138.4,961.4 139,962.6 139.6,962.5 140.2,962.5 140.8,962 141.4,961.9 142,962.5 142.6,961.9 143.2,962.4 143.8,961.3 144.4,961.4 145,961.5 145.6,962.5 146.2,961.3 146.8,961.5 147.4,962.4 148,962.6 148.6,963.5 149.2,963.4 149.8,962.8 150.4,962.4 151,961.3 151.6,961.5 152.2,961.9 152.8,961.9 153.4,961.4 154,961.5 154.6,961.8 155.2,962.7 155.8,962.5 156.4,962 157,962.1 157.6,962.2 158.2,961.9 158.8,961.8 159.4,961.4 160,962.5 160.6,962.8 161.2,962.5 161.8,962.5 162.4,962.7 163,963.3 163.6,962.4 164.2,961.5 164.8,961.6 165.4,962.6 166,962.9 166.6,962.8 167.2,962.7 167.8,962.2 168.4,961.4 169,961.5 169.6,961.2 170.2,961.7 170.8,961.5 171.4,962.1 172,961.9 172.6,961.3 173.2,962.4 173.8,962.5 174.4,961.6 175,962.2 175.6,962.5 176.2,962.2 176.8,962.6 177.4,962.5 178,962.8 178.6,962.4 179.2,962.2 179.8,962.5 180.4,962.7 181,962.4 181.6,961.9 182.2,961.7 182.8,961.9 183.4,961.9 184,962.3 184.6,962.3 185.2,962.2 185.8,962.2 186.4,962.4 187,963.1 187.6,962.9 188.2,962.1 188.8,962.3 189.4,962.1 190,962.1 190.6,962 191.2,961.7 191.8,961.2 192.4,960.9 193,962.2 193.6,962.7 194.2,961.9 194.8,962.3 195.4,962.1 196,962.2 196.6,961.8 197.2,962 197.8,961.9 198.4,961.1 199,962 199.6,961.9 200.2,961 200.8,962.1 201.4,962 202,961.9 202.6,961.7 203.2,961.1 203.8,960.6 204.4,960.6 205,960.7 205.6,961.7 206.2,961.2 206.8,959.5 207.4,958.4 208,957.5 208.6,956 209.2,953.6 209.8,951.6 210.4,950.9 211,948.5 211.6,945.3 212.2,943.6 212.8,943.2 213.4,943.7 214,944.4 214.6,945 215.2,946 215.8,948.5 216.4,950.7 217,952.3 217.6,954 218.2,955.9 218.8,956.9 219.4,957.3 220,958.2 220.6,958.3 221.2,959.4 221.8,959.5 222.4,959 223,959.7 223.6,960.1 224.2,958.9 224.8,959.7 225.4,960.5 226,959.3 226.6,959.4 227.2,959.1 227.8,959.4 228.4,958.7 229,959.1 229.6,960.1 230.2,960.8 230.8,961.3 231.4,961.7 232,962.2 232.6,962.2 233.2,962.1 233.8,961.5 234.4,962.1 235,963.6 235.6,963.4 236.2,962.7 236.8,962.5 237.4,962.5 238,962.2 238.6,962.9 239.2,962.1 239.8,962.3 240.4,962.9 241,961.5 241.6,962 242.2,961.3 242.8,961.7 243.4,962 244,962 244.6,962.1 245.2,961.8 245.8,961.8 246.4,961.3 247,961.3 247.6,960.8 248.2,961.1 248.8,960.2 249.4,960.4 250,959.6 250.6,959.2 251.2,959.2 251.8,957.7 252.4,955.4 253,953.8 253.6,949.8 254.2,947.1 254.8,942.9 255.4,938.2 256,934.5 256.6,930.8 257.2,928.4 257.8,925.8 258.4,926.1 259,927 259.6,928.4 260.2,931.4 260.8,935.8 261.4,938.9 262,942.3 262.6,945.1 263.2,947 263.8,948.8 264.4,949.4 265,949.3 265.6,949.5 266.2,949.3 266.8,947.1 267.4,942.9 268,938.4 268.6,933.4 269.2,927.9 269.8,921.5 270.4,915.2 271,909.8 271.6,906.2 272.2,903.9 272.8,901.8 273.4,902.8 274,907.5 274.6,912.2 275.2,918 275.8,924.4 276.4,929.9 277,935 277.6,940 278.2,944.9 278.8,947.7 279.4,950.1 280,950.9 280.6,951.9 281.2,952.3 281.8,953.4 282.4,954.2 283,955.3 283.6,956.3 284.2,956.2 284.8,956.7 285.4,958.4 286,958.6 286.6,959.2 287.2,959.9 287.8,960.9 288.4,961.3 289,961.6 289.6,961.9 290.2,961.5 290.8,961.7 291.4,962 292,962.2 292.6,962.2 293.2,962.3 293.8,962.2 294.4,961.8 295,961.5 295.6,962.5 296.2,962.4 296.8,961.9 297.4,962.3 298,962.3 298.6,961.8 299.2,960.6 299.8,960.3 300.4,960.2 301,960.2 301.6,958.6 302.2,957.7 302.8,956.6 303.4,955.8 304,954.5 304.6,951.2 305.2,947.5 305.8,943.9 306.4,937.5 307,929.8 307.6,922.3 308.2,913.9 308.8,904.8 309.4,898.5 310,893.9 310.6,891 311.2,891.9 311.8,896 312.4,901.3 313,907.8 313.6,915.6 314.2,923.3 314.8,931.2 315.4,937 316,942.6 316.6,945.4 317.2,948 317.8,949.1 318.4,950.6 319,952.2 319.6,953.2 320.2,954 320.8,954.3 321.4,955.1 322,956.1 322.6,957 323.2,957.5 323.8,958.8 324.4,959.5 325,960.5 325.6,961 326.2,961.5 326.8,961.4 327.4,961.6 328,961.5 328.6,961.9 329.2,962.2 329.8,962.4 330.4,962 331,963.4 331.6,962.5 332.2,962.6 332.8,962.2 333.4,960.6 334,961.1 334.6,961.4 335.2,959.9 335.8,960.4 336.4,959.6 337,959.3 337.6,958.9 338.2,957.6 338.8,957 339.4,955 340,952.6 340.6,950.5 341.2,948.2 341.8,943.7 342.4,939.9 343,936.2 343.6,933 344.2,931.1 344.8,930.4 345.4,930.2 346,931.6 346.6,933.6 347.2,937.2 347.8,939.1 348.4,942.9 349,946.4 349.6,949.2 350.2,951.2 350.8,953.1 351.4,954.9 352,955.9 352.6,956 353.2,956.5 353.8,957.6 354.4,958.1 355,957.9 355.6,958 356.2,958.6 356.8,960.1 357.4,959.9 358,959.9 358.6,960.8 359.2,961.6 359.8,961.4 360.4,960.7 361,961.2 361.6,961.4 362.2,961.5 362.8,961.3 363.4,961.5 364,961.4 364.6,961.8 365.2,961.6 365.8,960.8 366.4,960.3 367,960.5 367.6,960.5 368.2,959.9 368.8,958.6 369.4,956.7 370,956.8 370.6,956.2 371.2,955.7 371.8,955.1 372.4,955.1 373,955.3 373.6,956.4 374.2,955.5 374.8,954.4 375.4,953 376,950.8 376.6,947.7 377.2,943.8 377.8,939.8 378.4,936 379,931.6 379.6,927.5 380.2,924.5 380.8,921.9 381.4,920.7 382,921.3 382.6,924 383.2,927.7 383.8,931.8 384.4,936.1 385,939.7 385.6,943.7 386.2,948 386.8,951 387.4,952.5 388,954.2 388.6,955.4 389.2,955.7 389.8,955.7 390.4,955.7 391,957.2 391.6,957.6 392.2,957.7 392.8,957.8 393.4,958 394,958.8 394.6,959.5 395.2,960.2 395.8,960.1 396.4,961.2 397,961.4 397.6,961.9 398.2,961.5 398.8,962.1 399.4,962.6 400,962.2 400.6,961.6 401.2,962 401.8,962.2 402.4,961.6 403,961.5 403.6,962.1 404.2,961.9 404.8,962.3 405.4,961.6 406,961.3 406.6,961.9 407.2,962.6 407.8,962 408.4,962.1 409,962.2 409.6,961.9 410.2,962.4 410.8,962.2 411.4,962.1 412,961.2 412.6,960.9 413.2,960.7 413.8,961.5 414.4,961.7 415,962.1 415.6,962.2 416.2,961.6 416.8,961.3 417.4,961.5 418,961.5 418.6,960.4 419.2,960.2 419.8,959.5 420.4,958.9 421,958.7 421.6,957.6 422.2,957 422.8,957 423.4,956.4 424,955.8 424.6,955.6 425.2,955.6 425.8,955.3 426.4,955.6 427,955.6 427.6,955.9 428.2,955.8 428.8,955.5 429.4,955 430,954.9 430.6,954.8 431.2,955.6 431.8,954.7 432.4,954.5 433,954.4 433.6,953.3 434.2,953.1 434.8,953.3 435.4,953.3 436,953.6 436.6,954.5 437.2,955.6 437.8,956 438.4,956.3 439,956.7 439.6,956.8 440.2,958 440.8,958.5 441.4,958.5 442,959.2 442.6,959.5 443.2,959.5 443.8,959.4 444.4,959.5 445,959.4 445.6,959.6 446.2,959.3 446.8,958.7 447.4,958 448,957.5 448.6,957.5 449.2,956.1 449.8,956.4 450.4,956 451,955.8 451.6,955.8 452.2,956.1 452.8,956.3 453.4,956.8 454,957.8 454.6,958.2 455.2,959.6 455.8,960.1 456.4,959.1 457,959.9 457.6,960.9 458.2,961.2 458.8,961.3 459.4,961.5 460,961.7 460.6,961.9 461.2,962.2 461.8,961.8 462.4,961.8 463,961.2 463.6,961.5 464.2,961.5 464.8,962.4 465.4,962.9 466,962.2 466.6,961.6 467.2,962 467.8,962.1 468.4,962.3 469,962.6 469.6,962.3 470.2,961.4 470.8,962.2 471.4,961.8 472,961.6 472.6,961.9 473.2,961.3 473.8,960.6 474.4,960.4 475,960.8 475.6,961 476.2,960.9 476.8,960 477.4,959.4 478,959.1 478.6,957.5 479.2,956.5 479.8,954.5 480.4,952.5 481,950.5 481.6,948.7 482.2,946.6 482.8,944.8 483.4,943.4 484,942.3 484.6,942.2 485.2,942.4 485.8,943.1 486.4,944.4 487,946 487.6,948.2 488.2,949.5 488.8,951 489.4,952.8 490,954.6 490.6,955.7 491.2,956.6 491.8,957.1 492.4,957.4 493,957.5 493.6,957.3 494.2,956.5 494.8,956.3 495.4,956 496,957.1 496.6,957.6 497.2,957.9 497.8,958 498.4,958.6 499,958.8 499.6,959.1 500.2,959.1 500.8,959.6 501.4,960.2 502,961 502.6,961.4 503.2,960.9 503.8,961.1 504.4,961 505,960.5 505.6,960 506.2,960 506.8,959.7 507.4,959.8 508,959.7 508.6,959.5 509.2,959.4 509.8,959.3 510.4,958.8 511,959 511.6,958.3 512.2,958.7 512.8,959 513.4,958.7 514,958.7 514.6,959.5 515.2,959.5 515.8,960.1 516.4,960.4 517,960.4 517.6,960.7 518.2,961.2 518.8,961.2 519.4,961 520,961.4 520.6,961.7 521.2,961.7 521.8,961.7 522.4,961.6 523,961.5 523.6,961.3 524.2,961.3 524.8,961.9 525.4,961.6 526,961.7 526.6,961.4 527.2,961.7 527.8,961.8 528.4,962.6 529,961.7 529.6,961.6 530.2,962.2 530.8,962.2 531.4,961.5 532,962 532.6,962.2 533.2,961.8 533.8,962.2 534.4,961.9 535,961.8 535.6,962 536.2,961.9 536.8,961.7" fill="none" stroke="#9900FF" stroke-width="3.6" stroke-linejoin="round" stroke-linecap="round"/></g>
<text x="98" y="146" font-family="'Liberation Sans', sans-serif" font-size="30" fill="#FF0000">85.8</text>
<text x="98" y="219.1" font-family="'Liberation Sans', sans-serif" font-size="30" fill="#FF4000">76.6</text>
<text x="98" y="292.2" font-family="'Liberation Sans', sans-serif" font-size="30" fill="#FF8000">70.7</text>
<text x="98" y="365.3" font-family="'Liberation Sans', sans-serif" font-size="30" fill="#FFD700">62.0</text>
<text x="98" y="438.4" font-family="'Liberation Sans', sans-serif" font-size="30" fill="#66EE00">50.4</text>
<text x="98" y="511.5" font-family="'Liberation Sans', sans-serif" font-size="30" fill="#00EE33">41.2</text>
<text x="98" y="584.6" font-family="'Liberation Sans', sans-serif" font-size="30" fill="#00F0D0">33.5</text>
<text x="98" y="657.7" font-family="'Liberation Sans', sans-serif" font-size="30" fill="#00C0FF">22.7</text>
<text x="98" y="730.8" font-family="'Liberation Sans', sans-serif" font-size="30" fill="#1070FF">15.5</text>
<text x="98" y="803.9" font-family="'Liberation Sans', sans-serif" font-size="30" fill="#3322FF">8.9</text>
<text x="98" y="877" font-family="'Liberation Sans', sans-serif" font-size="30" fill="#7700FF">4.8</text>
<text x="98" y="950.1" font-family="'Liberation Sans', sans-serif" font-size="30" fill="#9900FF">0 GPa</text>
<text transform="translate(261.5,101.6) rotate(-90)" text-anchor="middle" font-family="'Liberation Sans', sans-serif" font-weight="bold" font-size="18" fill="#FF0000">(103)</text>
<text transform="translate(292,58.9) rotate(-90)" text-anchor="middle" font-family="'Liberation Sans', sans-serif" font-weight="bold" font-size="18" fill="#FF0000">(110)</text>
<text transform="translate(314.7,106.5) rotate(-90)" text-anchor="middle" font-family="'Liberation Sans', sans-serif" font-weight="bold" font-size="18" fill="#FF0000">(112)</text>
<text transform="translate(347.7,91.5) rotate(-90)" text-anchor="middle" font-family="'Liberation Sans', sans-serif" font-weight="bold" font-size="18" fill="#FF0000">(105)</text>
<text transform="translate(373.7,76.5) rotate(-90)" text-anchor="middle" font-family="'Liberation Sans', sans-serif" font-weight="bold" font-size="18" fill="#FF0000">(114)</text>
<text transform="translate(423.9,80.8) rotate(-90)" text-anchor="middle" font-family="'Liberation Sans', sans-serif" font-weight="bold" font-size="18" fill="#FF0000">(200)</text>
<text transform="translate(513.2,120.9) rotate(-90)" text-anchor="middle" font-family="'Liberation Sans', sans-serif" font-weight="bold" font-size="18" fill="#FF0000">(213)</text>
<rect x="83.2" y="17.8" width="455.2" height="988.6" fill="none" stroke="#000" stroke-width="3.3"/>
<path d="M83.2 90.6H90.2 M83.2 163.3H90.2 M83.2 236H90.2 M83.2 308.7H90.2 M83.2 381.4H90.2 M83.2 454.1H90.2 M83.2 526.8H90.2 M83.2 599.5H90.2 M83.2 672.2H90.2 M83.2 744.9H90.2 M83.2 817.6H90.2 M83.2 890.3H90.2 M83.2 963H90.2 M83 1006.4V999.6 M202.8 1006.4V999.6 M322.6 1006.4V999.6 M442.4 1006.4V999.6 M142.9 1006.4V1002.6 M262.7 1006.4V1002.6 M382.5 1006.4V1002.6 M502.3 1006.4V1002.6" stroke="#000" stroke-width="3.2" fill="none"/>
<text x="83" y="1037.5" text-anchor="middle" font-family="'Liberation Sans', sans-serif" font-size="29.7" fill="#000">5</text>
<text x="202.8" y="1037.5" text-anchor="middle" font-family="'Liberation Sans', sans-serif" font-size="29.7" fill="#000">10</text>
<text x="322.6" y="1037.5" text-anchor="middle" font-family="'Liberation Sans', sans-serif" font-size="29.7" fill="#000">15</text>
<text x="442.4" y="1037.5" text-anchor="middle" font-family="'Liberation Sans', sans-serif" font-size="29.7" fill="#000">20</text>
<text x="212.4" y="1079.8" font-family="'Liberation Sans', sans-serif" font-size="39.5" font-style="italic" fill="#000">2</text>
<text transform="translate(233.6,1080.4) scale(1.23,1)" font-family="'Liberation Serif', serif" font-size="39.9" font-style="italic" fill="#000">&#952;</text>
<text x="262.95" y="1079.8" font-family="'Liberation Sans', sans-serif" font-size="39.5" fill="#000">(degree)</text>
<text transform="translate(54.6,510.9) rotate(-90)" text-anchor="middle" font-family="'Liberation Sans', sans-serif" font-size="39.8" fill="#000">Intensity (a.u.)</text>
<text x="-1" y="44" font-family="'Liberation Sans', sans-serif" font-size="47" fill="#000">a</text>
<clipPath id="clipB"><rect x="705.3" y="1.5" width="547.1" height="439.9"/></clipPath>
<g clip-path="url(#clipB)">
<path d="M712.2 80.6L728.8 105.3 M742.4 126.3L755.2 146.8 M770.9 166L794.8 188.9 M814.6 203.8L825.5 210.2 M859.6 234.5L863.2 237.3 M884.8 249.4L906.7 258.2 M929.5 268.5L939.1 273.5 M1013.5 320.5L1014.1 320.6 M1036.7 331L1038 331.9 M1059.4 344.8L1064.9 348.3 M1086.7 360.4L1088.5 361.3 M1133.1 374.9L1143.3 378.7 M1203.2 411.7L1204.9 412.8 M1227.6 422.6L1239.1 425.7" stroke="#000" stroke-width="2.2" fill="none"/>
<path d="M713.3 35.4L727.6 52.2 M745 70.1L752.6 77 M769.3 95.4L796.3 131.4 M813.5 149.3L826.6 159.8 M858.7 190.1L864.1 195.1 M882.7 211.8L908.8 234.1 M927.8 250.4L940.7 261.4 M1012.1 300L1015.5 302.2 M1061 322.6L1063.3 323.2 M1133.4 340.5L1143 342.9 M1227.9 360.7L1238.7 362" stroke="#0000FF" stroke-width="2.2" fill="none"/>
<rect x="697.2" y="62.2" width="16" height="16" fill="#000"/>
<rect x="727.7" y="107.7" width="16" height="16" fill="#000"/>
<rect x="753.8" y="149.4" width="16" height="16" fill="#000"/>
<rect x="795.8" y="189.5" width="16" height="16" fill="#000"/>
<rect x="828.3" y="208.5" width="16" height="16" fill="#000"/>
<rect x="841.6" y="219" width="16" height="16" fill="#000"/>
<rect x="865.2" y="236.8" width="16" height="16" fill="#000"/>
<rect x="910.4" y="254.8" width="16" height="16" fill="#000"/>
<rect x="942.2" y="271.2" width="16" height="16" fill="#000"/>
<rect x="959.4" y="284.6" width="16" height="16" fill="#000"/>
<rect x="977.2" y="298.8" width="16" height="16" fill="#000"/>
<rect x="993.7" y="308.4" width="16" height="16" fill="#000"/>
<rect x="1017.9" y="316.7" width="16" height="16" fill="#000"/>
<rect x="1040.8" y="330.2" width="16" height="16" fill="#000"/>
<rect x="1067.5" y="346.9" width="16" height="16" fill="#000"/>
<rect x="1091.7" y="358.8" width="16" height="16" fill="#000"/>
<rect x="1113.3" y="362.6" width="16" height="16" fill="#000"/>
<rect x="1147.1" y="375" width="16" height="16" fill="#000"/>
<rect x="1163.6" y="383.8" width="16" height="16" fill="#000"/>
<rect x="1184.6" y="397.1" width="16" height="16" fill="#000"/>
<rect x="1207.5" y="411.4" width="16" height="16" fill="#000"/>
<rect x="1243.1" y="420.9" width="16" height="16" fill="#000"/>
<circle cx="705.2" cy="25.9" r="9.1" fill="#0000FF"/>
<circle cx="735.7" cy="61.7" r="9.1" fill="#0000FF"/>
<circle cx="761.8" cy="85.4" r="9.1" fill="#0000FF"/>
<circle cx="803.8" cy="141.4" r="9.1" fill="#0000FF"/>
<circle cx="836.3" cy="167.7" r="9.1" fill="#0000FF"/>
<circle cx="849.6" cy="181.5" r="9.1" fill="#0000FF"/>
<circle cx="873.2" cy="203.7" r="9.1" fill="#0000FF"/>
<circle cx="918.4" cy="242.2" r="9.1" fill="#0000FF"/>
<circle cx="950.2" cy="269.6" r="9.1" fill="#0000FF"/>
<circle cx="967.4" cy="277.5" r="9.1" fill="#0000FF"/>
<circle cx="985.2" cy="287.8" r="9.1" fill="#0000FF"/>
<circle cx="1001.7" cy="293" r="9.1" fill="#0000FF"/>
<circle cx="1025.9" cy="309.2" r="9.1" fill="#0000FF"/>
<circle cx="1048.8" cy="319.9" r="9.1" fill="#0000FF"/>
<circle cx="1075.5" cy="325.9" r="9.1" fill="#0000FF"/>
<circle cx="1099.7" cy="330.6" r="9.1" fill="#0000FF"/>
<circle cx="1121.3" cy="337.3" r="9.1" fill="#0000FF"/>
<circle cx="1155.1" cy="346.1" r="9.1" fill="#0000FF"/>
<circle cx="1171.6" cy="350.4" r="9.1" fill="#0000FF"/>
<circle cx="1192.6" cy="355.6" r="9.1" fill="#0000FF"/>
<circle cx="1215.5" cy="359.2" r="9.1" fill="#0000FF"/>
<circle cx="1251.1" cy="363.5" r="9.1" fill="#0000FF"/>
</g>
<path d="M761 258.4H823" stroke="#000" stroke-width="2.6"/><path d="M738 258.4L762 252.6L762 264.2Z" fill="#000"/>
<path d="M1100 296.1H1186" stroke="#0000FF" stroke-width="2.6"/><path d="M1208.4 296.1L1185 290.7L1185 301.5Z" fill="#0000FF"/>
<path d="M705.3 10V441.4 H1252.4" stroke="#000" stroke-width="3" fill="none"/>
<path d="M705.3 0V10.5 M703.8 1.5H1252.4 V442.9" stroke="#0000FF" stroke-width="3" fill="none"/>
<path d="M705.3 55.4H713.7 M705.3 162.6H713.7 M705.3 269.8H713.7 M705.3 377H713.7 M705.3 109H709.8 M705.3 216.2H709.8 M705.3 323.4H709.8 M705.3 430.6H709.8 M832.5 441.4V433 M959.7 441.4V433 M1087 441.4V433 M1214.2 441.4V433 M768.8 441.4V436.9 M896.1 441.4V436.9 M1023.4 441.4V436.9 M1150.6 441.4V436.9" stroke="#000" stroke-width="3" fill="none"/>
<path d="M1252.4 69.8H1244 M1252.4 145.8H1244 M1252.4 221.8H1244 M1252.4 297.8H1244 M1252.4 373.8H1244 M1252.4 31.8H1247.9 M1252.4 107.8H1247.9 M1252.4 183.8H1247.9 M1252.4 259.8H1247.9 M1252.4 335.8H1247.9 M1252.4 411.8H1247.9 M832.5 1.5V9.9 M959.7 1.5V9.9 M1087 1.5V9.9 M1214.2 1.5V9.9 M768.8 1.5V6 M896.1 1.5V6 M1023.4 1.5V6 M1150.6 1.5V6" stroke="#0000FF" stroke-width="3" fill="none"/>
<text x="692.5" y="63.9" text-anchor="end" font-family="'Liberation Sans', sans-serif" font-size="29.2" fill="#000">4.1</text>
<text x="692.5" y="171.1" text-anchor="end" font-family="'Liberation Sans', sans-serif" font-size="29.2" fill="#000">4.0</text>
<text x="692.5" y="278.3" text-anchor="end" font-family="'Liberation Sans', sans-serif" font-size="29.2" fill="#000">3.9</text>
<text x="692.5" y="385.5" text-anchor="end" font-family="'Liberation Sans', sans-serif" font-size="29.2" fill="#000">3.8</text>
<text x="1262" y="78.8" font-family="'Liberation Sans', sans-serif" font-size="29.2" fill="#0000FF">18</text>
<text x="1262" y="154.8" font-family="'Liberation Sans', sans-serif" font-size="29.2" fill="#0000FF">17</text>
<text x="1262" y="230.8" font-family="'Liberation Sans', sans-serif" font-size="29.2" fill="#0000FF">16</text>
<text x="1262" y="306.8" font-family="'Liberation Sans', sans-serif" font-size="29.2" fill="#0000FF">15</text>
<text x="1262" y="382.8" font-family="'Liberation Sans', sans-serif" font-size="29.2" fill="#0000FF">14</text>
<text x="705.2" y="473.8" text-anchor="middle" font-family="'Liberation Sans', sans-serif" font-size="29.2" fill="#000">0</text>
<text x="832.5" y="473.8" text-anchor="middle" font-family="'Liberation Sans', sans-serif" font-size="29.2" fill="#000">20</text>
<text x="959.7" y="473.8" text-anchor="middle" font-family="'Liberation Sans', sans-serif" font-size="29.2" fill="#000">40</text>
<text x="1087" y="473.8" text-anchor="middle" font-family="'Liberation Sans', sans-serif" font-size="29.2" fill="#000">60</text>
<text x="1214.2" y="473.8" text-anchor="middle" font-family="'Liberation Sans', sans-serif" font-size="29.2" fill="#000">80</text>
<text x="979" y="506.9" text-anchor="middle" font-family="'Liberation Sans', sans-serif" font-size="37.7" fill="#000"><tspan font-style="italic">P</tspan> (GPa)</text>
<text transform="translate(639,221.2) rotate(-90)" text-anchor="middle" font-family="'Liberation Sans', sans-serif" font-size="37.8" fill="#000"><tspan font-style="italic">a</tspan> (<tspan font-family="'Liberation Serif', serif">&#197;</tspan>)</text>
<text transform="translate(1337,221.2) rotate(-90)" text-anchor="middle" font-family="'Liberation Sans', sans-serif" font-size="37.8" fill="#0000FF"><tspan font-style="italic">c</tspan> (<tspan font-family="'Liberation Serif', serif">&#197;</tspan>)</text>
<text x="617" y="56.5" font-family="'Liberation Sans', sans-serif" font-size="49" fill="#000">b</text>
<clipPath id="clipC"><rect x="755.2" y="543.6" width="546.8" height="439.7"/></clipPath>
<g clip-path="url(#clipC)">
<rect x="747.2" y="566.6" width="16" height="16" fill="#FF0000"/>
<rect x="777.7" y="610.3" width="16" height="16" fill="#FF0000"/>
<rect x="803.8" y="644.2" width="16" height="16" fill="#FF0000"/>
<rect x="845.8" y="697.2" width="16" height="16" fill="#FF0000"/>
<rect x="878.2" y="721.8" width="16" height="16" fill="#FF0000"/>
<rect x="891.6" y="735" width="16" height="16" fill="#FF0000"/>
<rect x="915.1" y="755.7" width="16" height="16" fill="#FF0000"/>
<rect x="960.3" y="785.6" width="16" height="16" fill="#FF0000"/>
<rect x="992.1" y="810.3" width="16" height="16" fill="#FF0000"/>
<rect x="1009.2" y="819.4" width="16" height="16" fill="#FF0000"/>
<rect x="1027" y="831" width="16" height="16" fill="#FF0000"/>
<rect x="1043.6" y="837.3" width="16" height="16" fill="#FF0000"/>
<rect x="1067.7" y="849.7" width="16" height="16" fill="#FF0000"/>
<rect x="1090.6" y="861.2" width="16" height="16" fill="#FF0000"/>
<rect x="1117.4" y="870.3" width="16" height="16" fill="#FF0000"/>
<rect x="1141.5" y="877.2" width="16" height="16" fill="#FF0000"/>
<rect x="1163.1" y="881.8" width="16" height="16" fill="#FF0000"/>
<rect x="1196.9" y="890.9" width="16" height="16" fill="#FF0000"/>
<rect x="1213.4" y="896.4" width="16" height="16" fill="#FF0000"/>
<rect x="1234.4" y="903.9" width="16" height="16" fill="#FF0000"/>
<rect x="1257.3" y="910.2" width="16" height="16" fill="#FF0000"/>
<rect x="1292.9" y="915.7" width="16" height="16" fill="#FF0000"/>
<polyline points="755.2,573.3 756.6,576.1 757.9,578.8 759.3,581.4 760.7,584.1 762.1,586.7 763.4,589.2 764.8,591.8 766.2,594.3 767.5,596.7 768.9,599.2 770.3,601.6 771.6,604 773,606.3 774.4,608.6 775.8,610.9 777.1,613.2 778.5,615.4 779.9,617.6 781.2,619.8 782.6,622 784,624.1 785.4,626.3 786.7,628.3 788.1,630.4 789.5,632.5 790.8,634.5 792.2,636.5 793.6,638.5 795,640.4 796.3,642.4 797.7,644.3 799.1,646.2 800.4,648.1 801.8,650 803.2,651.8 804.5,653.7 805.9,655.5 807.3,657.3 808.7,659.1 810,660.8 811.4,662.6 812.8,664.3 814.1,666 815.5,667.7 816.9,669.4 818.3,671.1 819.6,672.7 821,674.4 822.4,676 823.7,677.6 825.1,679.2 826.5,680.8 827.9,682.4 829.2,683.9 830.6,685.5 832,687 833.3,688.5 834.7,690 836.1,691.5 837.4,693 838.8,694.5 840.2,695.9 841.6,697.4 842.9,698.8 844.3,700.3 845.7,701.7 847,703.1 848.4,704.5 849.8,705.9 851.2,707.2 852.5,708.6 853.9,710 855.3,711.3 856.6,712.6 858,714 859.4,715.3 860.8,716.6 862.1,717.9 863.5,719.2 864.9,720.5 866.2,721.7 867.6,723 869,724.2 870.3,725.5 871.7,726.7 873.1,728 874.5,729.2 875.8,730.4 877.2,731.6 878.6,732.8 879.9,734 881.3,735.2 882.7,736.3 884.1,737.5 885.4,738.6 886.8,739.8 888.2,740.9 889.5,742.1 890.9,743.2 892.3,744.3 893.7,745.4 895,746.5 896.4,747.6 897.8,748.7 899.1,749.8 900.5,750.9 901.9,752 903.2,753.1 904.6,754.1 906,755.2 907.4,756.2 908.7,757.3 910.1,758.3 911.5,759.3 912.8,760.4 914.2,761.4 915.6,762.4 917,763.4 918.3,764.4 919.7,765.4 921.1,766.4 922.4,767.4 923.8,768.4 925.2,769.3 926.6,770.3 927.9,771.3 929.3,772.2 930.7,773.2 932,774.1 933.4,775.1 934.8,776 936.1,776.9 937.5,777.9 938.9,778.8 940.3,779.7 941.6,780.6 943,781.5 944.4,782.4 945.7,783.3 947.1,784.2 948.5,785.1 949.9,786 951.2,786.9 952.6,787.8 954,788.6 955.3,789.5 956.7,790.4 958.1,791.2 959.5,792.1 960.8,793 962.2,793.8 963.6,794.6 964.9,795.5 966.3,796.3 967.7,797.1 969,798 970.4,798.8 971.8,799.6 973.2,800.4 974.5,801.2 975.9,802.1 977.3,802.9 978.6,803.7 980,804.5 981.4,805.3 982.8,806 984.1,806.8 985.5,807.6 986.9,808.4 988.2,809.2 989.6,809.9 991,810.7 992.4,811.5 993.7,812.2 995.1,813 996.5,813.7 997.8,814.5 999.2,815.2 1000.6,816 1001.9,816.7 1003.3,817.5 1004.7,818.2 1006.1,818.9 1007.4,819.7 1008.8,820.4 1010.2,821.1 1011.5,821.8 1012.9,822.6 1014.3,823.3 1015.7,824 1017,824.7 1018.4,825.4 1019.8,826.1 1021.1,826.8 1022.5,827.5 1023.9,828.2 1025.3,828.9 1026.6,829.6 1028,830.2 1029.4,830.9 1030.7,831.6 1032.1,832.3 1033.5,833 1034.8,833.6 1036.2,834.3 1037.6,835 1039,835.6 1040.3,836.3 1041.7,836.9 1043.1,837.6 1044.4,838.3 1045.8,838.9 1047.2,839.6 1048.6,840.2 1049.9,840.8 1051.3,841.5 1052.7,842.1 1054,842.8 1055.4,843.4 1056.8,844 1058.2,844.6 1059.5,845.3 1060.9,845.9 1062.3,846.5 1063.6,847.1 1065,847.8 1066.4,848.4 1067.7,849 1069.1,849.6 1070.5,850.2 1071.9,850.8 1073.2,851.4 1074.6,852 1076,852.6 1077.3,853.2 1078.7,853.8 1080.1,854.4 1081.5,855 1082.8,855.6 1084.2,856.2 1085.6,856.7 1086.9,857.3 1088.3,857.9 1089.7,858.5 1091.1,859.1 1092.4,859.6 1093.8,860.2 1095.2,860.8 1096.5,861.3 1097.9,861.9 1099.3,862.5 1100.6,863 1102,863.6 1103.4,864.1 1104.8,864.7 1106.1,865.3 1107.5,865.8 1108.9,866.4 1110.2,866.9 1111.6,867.5 1113,868 1114.4,868.5 1115.7,869.1 1117.1,869.6 1118.5,870.2 1119.8,870.7 1121.2,871.2 1122.6,871.8 1124,872.3 1125.3,872.8 1126.7,873.4 1128.1,873.9 1129.4,874.4 1130.8,874.9 1132.2,875.4 1133.5,876 1134.9,876.5 1136.3,877 1137.7,877.5 1139,878 1140.4,878.5 1141.8,879 1143.1,879.5 1144.5,880.1 1145.9,880.6 1147.3,881.1 1148.6,881.6 1150,882.1 1151.4,882.6 1152.7,883.1 1154.1,883.6 1155.5,884 1156.9,884.5 1158.2,885 1159.6,885.5 1161,886 1162.3,886.5 1163.7,887 1165.1,887.5 1166.4,887.9 1167.8,888.4 1169.2,888.9 1170.6,889.4 1171.9,889.9 1173.3,890.3 1174.7,890.8 1176,891.3 1177.4,891.7 1178.8,892.2 1180.2,892.7 1181.5,893.1 1182.9,893.6 1184.3,894.1 1185.6,894.5 1187,895 1188.4,895.4 1189.8,895.9 1191.1,896.4 1192.5,896.8 1193.9,897.3 1195.2,897.7 1196.6,898.2 1198,898.6 1199.3,899.1 1200.7,899.5 1202.1,900 1203.5,900.4 1204.8,900.9 1206.2,901.3 1207.6,901.7 1208.9,902.2 1210.3,902.6 1211.7,903.1 1213.1,903.5 1214.4,903.9 1215.8,904.4 1217.2,904.8 1218.5,905.2 1219.9,905.7 1221.3,906.1 1222.7,906.5 1224,906.9 1225.4,907.4 1226.8,907.8 1228.1,908.2 1229.5,908.6 1230.9,909.1 1232.2,909.5 1233.6,909.9 1235,910.3 1236.4,910.7 1237.7,911.1 1239.1,911.6 1240.5,912 1241.8,912.4 1243.2,912.8 1244.6,913.2 1246,913.6 1247.3,914 1248.7,914.4 1250.1,914.8 1251.4,915.2 1252.8,915.6 1254.2,916 1255.6,916.4 1256.9,916.8 1258.3,917.2 1259.7,917.6 1261,918 1262.4,918.4 1263.8,918.8 1265.1,919.2 1266.5,919.6 1267.9,920 1269.3,920.4 1270.6,920.8 1272,921.2 1273.4,921.6 1274.7,922 1276.1,922.3 1277.5,922.7 1278.9,923.1 1280.2,923.5 1281.6,923.9 1283,924.3 1284.3,924.6 1285.7,925 1287.1,925.4 1288.5,925.8 1289.8,926.1 1291.2,926.5 1292.6,926.9 1293.9,927.3 1295.3,927.6 1296.7,928 1298,928.4 1299.4,928.8 1300.8,929.1 1302.2,929.5" fill="none" stroke="#000" stroke-width="3" stroke-dasharray="13.5 19.12" stroke-dashoffset="11.81"/>
</g>
<rect x="755.2" y="543.6" width="546.8" height="439.7" fill="none" stroke="#000" stroke-width="3"/>
<path d="M755.2 606.3H763.5 M755.2 700.5H763.5 M755.2 794.8H763.5 M755.2 889H763.5 M755.2 559.2H759.5 M755.2 653.4H759.5 M755.2 747.7H759.5 M755.2 841.9H759.5 M755.2 936.2H759.5 M882.4 983.3V975 M1009.6 983.3V975 M1136.8 983.3V975 M1264 983.3V975 M818.8 983.3V979 M946 983.3V979 M1073.2 983.3V979 M1200.4 983.3V979" stroke="#000" stroke-width="3" fill="none"/>
<text x="745.5" y="616.1" text-anchor="end" font-family="'Liberation Sans', sans-serif" font-size="29.2" fill="#000">300</text>
<text x="745.5" y="710.3" text-anchor="end" font-family="'Liberation Sans', sans-serif" font-size="29.2" fill="#000">270</text>
<text x="745.5" y="804.6" text-anchor="end" font-family="'Liberation Sans', sans-serif" font-size="29.2" fill="#000">240</text>
<text x="745.5" y="898.8" text-anchor="end" font-family="'Liberation Sans', sans-serif" font-size="29.2" fill="#000">210</text>
<text x="745.5" y="993.1" text-anchor="end" font-family="'Liberation Sans', sans-serif" font-size="29.2" fill="#000">180</text>
<text x="755.2" y="1015.3" text-anchor="middle" font-family="'Liberation Sans', sans-serif" font-size="29.2" fill="#000">0</text>
<text x="882.4" y="1015.3" text-anchor="middle" font-family="'Liberation Sans', sans-serif" font-size="29.2" fill="#000">20</text>
<text x="1009.6" y="1015.3" text-anchor="middle" font-family="'Liberation Sans', sans-serif" font-size="29.2" fill="#000">40</text>
<text x="1136.8" y="1015.3" text-anchor="middle" font-family="'Liberation Sans', sans-serif" font-size="29.2" fill="#000">60</text>
<text x="1264" y="1015.3" text-anchor="middle" font-family="'Liberation Sans', sans-serif" font-size="29.2" fill="#000">80</text>
<text x="1028.5" y="1055" text-anchor="middle" font-family="'Liberation Sans', sans-serif" font-size="37.5" fill="#000"><tspan font-style="italic">P</tspan> (GPa)</text>
<text transform="translate(684.5,761.4) rotate(-90)" text-anchor="middle" font-family="'Liberation Sans', sans-serif" font-size="38" fill="#000"><tspan font-style="italic">V</tspan> (&#197;<tspan font-size="26" dy="-14">3</tspan><tspan dy="14">)</tspan></text>
<text x="610.6" y="584.6" font-family="'Liberation Sans', sans-serif" font-size="50.5" fill="#000">c</text>
<rect x="818.1" y="857" width="16.2" height="16.4" fill="#FF0000"/>
<text x="878" y="876.4" font-family="'Liberation Sans', sans-serif" font-size="31.5" fill="#FF0000">Exp.</text>
<path d="M791 902.9H861" stroke="#000" stroke-width="3.5" stroke-dasharray="14.5 18.3"/>
<text x="877" y="914" font-family="'Liberation Sans', sans-serif" font-size="31.5" fill="#000">BM-fit</text>
<clipPath id="clipI"><rect x="1012.2" y="561.4" width="273.9" height="220.1"/></clipPath>
<g clip-path="url(#clipI)">
<path d="M1012 585.8L1020.4 600.4L1003.6 600.4Z M1027.3 600.4L1035.7 615L1018.9 615Z M1040.4 608.2L1048.8 622.8L1032 622.8Z M1061.4 640.2L1069.8 654.8L1053 654.8Z M1077.7 655.1L1086.1 669.7L1069.3 669.7Z M1084.4 663.1L1092.8 677.7L1076 677.7Z M1096.2 675L1104.6 689.6L1087.8 689.6Z M1118.9 699.8L1127.3 714.4L1110.5 714.4Z M1134.8 717.6L1143.2 732.2L1126.4 732.2Z M1143.4 721.2L1151.8 735.8L1135 735.8Z M1152.4 725.7L1160.8 740.3L1144 740.3Z M1160.7 727.5L1169.1 742.1L1152.3 742.1Z M1172.8 738.2L1181.2 752.8L1164.4 752.8Z M1184.3 743.5L1192.7 758.1L1175.9 758.1Z M1197.7 744.5L1206.1 759.1L1189.3 759.1Z M1209.8 745.7L1218.2 760.3L1201.4 760.3Z M1220.6 750.4L1229 765L1212.2 765Z M1237.5 754.2L1245.9 768.8L1229.1 768.8Z M1245.8 755.4L1254.2 770L1237.4 770Z M1256.4 757.2L1264.8 771.8L1248 771.8Z M1267.8 756.9L1276.2 771.5L1259.4 771.5Z M1285.7 758L1294.1 772.6L1277.3 772.6Z" fill="#FF00FF"/>
<path d="M1091.5 721.3L1290 774" stroke="#008000" stroke-width="3.6" stroke-dasharray="10.5 8.5" stroke-dashoffset="9" fill="none"/>
</g>
<rect x="1012.2" y="561.4" width="273.9" height="220.1" fill="none" stroke="#000" stroke-width="2.6"/>
<path d="M1010.3 590.3L1165.5 763" stroke="#008000" stroke-width="3.6" stroke-dasharray="11.5 8.56" fill="none"/>
<path d="M1012.2 583.1H1017.4 M1012.2 627.4H1017.4 M1012.2 671.7H1017.4 M1012.2 716H1017.4 M1012.2 760.3H1017.4 M1012.2 605.2H1015 M1012.2 649.5H1015 M1012.2 693.9H1015 M1012.2 738.1H1015 M1012.2 782.4H1015 M1075.8 781.5V776.3 M1139.6 781.5V776.3 M1203.4 781.5V776.3 M1267.2 781.5V776.3 M1043.9 781.5V778.7 M1107.7 781.5V778.7 M1171.5 781.5V778.7 M1235.3 781.5V778.7" stroke="#000" stroke-width="2.4" fill="none"/>
<text x="1007.5" y="590.4" text-anchor="end" font-family="'Liberation Sans', sans-serif" font-size="21.5" fill="#000">4.6</text>
<text x="1007.5" y="634.7" text-anchor="end" font-family="'Liberation Sans', sans-serif" font-size="21.5" fill="#000">4.4</text>
<text x="1007.5" y="679" text-anchor="end" font-family="'Liberation Sans', sans-serif" font-size="21.5" fill="#000">4.2</text>
<text x="1007.5" y="723.3" text-anchor="end" font-family="'Liberation Sans', sans-serif" font-size="21.5" fill="#000">4.0</text>
<text x="1007.5" y="767.6" text-anchor="end" font-family="'Liberation Sans', sans-serif" font-size="21.5" fill="#000">3.8</text>
<text x="1012" y="803.5" text-anchor="middle" font-family="'Liberation Sans', sans-serif" font-size="21.5" fill="#000">0</text>
<text x="1075.8" y="803.5" text-anchor="middle" font-family="'Liberation Sans', sans-serif" font-size="21.5" fill="#000">20</text>
<text x="1139.6" y="803.5" text-anchor="middle" font-family="'Liberation Sans', sans-serif" font-size="21.5" fill="#000">40</text>
<text x="1203.4" y="803.5" text-anchor="middle" font-family="'Liberation Sans', sans-serif" font-size="21.5" fill="#000">60</text>
<text x="1267.2" y="803.5" text-anchor="middle" font-family="'Liberation Sans', sans-serif" font-size="21.5" fill="#000">80</text>
<text x="1149.1" y="829.9" text-anchor="middle" font-family="'Liberation Sans', sans-serif" font-size="27.3" fill="#000"><tspan font-style="italic">P</tspan> (GPa)</text>
<text transform="translate(969.5,670.9) rotate(-90)" text-anchor="middle" font-family="'Liberation Sans', sans-serif" font-size="26.5" font-style="italic" fill="#000">c/a</text>
</svg>
</body></html>
